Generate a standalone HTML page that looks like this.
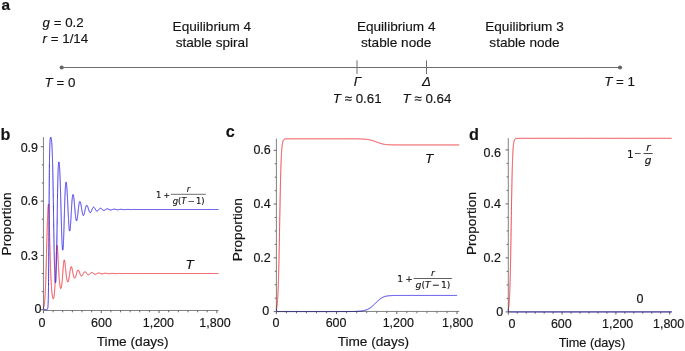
<!DOCTYPE html>
<html lang="en">
<head>
<meta charset="utf-8">
<title>Figure</title>
<style>
html,body{margin:0;padding:0;background:#fff;}
body{width:685px;height:351px;overflow:hidden;}
svg{display:block;}
svg text{stroke:#141414;stroke-width:.16px;}
svg .m text{stroke-width:.15px;}
</style>
</head>
<body>
<svg width="685" height="351" viewBox="0 0 685 351" font-family='"Liberation Sans", Arial, Helvetica, sans-serif' fill="#141414">
<rect width="685" height="351" fill="#fff"/>
<g font-weight="bold" font-size="16.2">
<text x="1.6" y="9.5" font-size="15.4">a</text>
<text x="0.6" y="139.9">b</text>
<text x="225.8" y="137.0">c</text>
<text x="469.1" y="139.7">d</text>
</g>
<g font-size="13.33">
<text x="42.6" y="27.1"><tspan font-style="italic">g</tspan> = 0.2</text>
<text x="42.6" y="42.8"><tspan font-style="italic">r</tspan> = 1/14</text>
<text x="211.9" y="31.1" text-anchor="middle" font-size="13.6">Equilibrium 4</text>
<text x="211.9" y="46.8" text-anchor="middle" font-size="13.6">stable spiral</text>
<text x="396.2" y="31.1" text-anchor="middle" font-size="13.6">Equilibrium 4</text>
<text x="396.2" y="46.8" text-anchor="middle" font-size="13.6">stable node</text>
<text x="524.5" y="31.1" text-anchor="middle" font-size="13.6">Equilibrium 3</text>
<text x="524.5" y="46.8" text-anchor="middle" font-size="13.6">stable node</text>
<text x="44.6" y="86.6"><tspan font-style="italic">T</tspan> = 0</text>
<text x="604.2" y="85.8"><tspan font-style="italic">T</tspan> = 1</text>
<text x="357.6" y="85.8" text-anchor="middle" font-style="italic">Γ</text>
<text x="426.4" y="85.8" text-anchor="middle" font-style="italic">Δ</text>
<text x="357.2" y="102.6" text-anchor="middle"><tspan font-style="italic">T</tspan> ≈ 0.61</text>
<text x="427" y="102.6" text-anchor="middle"><tspan font-style="italic">T</tspan> ≈ 0.64</text>
</g>
<g stroke="#6e6e6e" stroke-width="1" fill="none"><path d="M61.7 67.5H620"/><path d="M357 60.4V74.1M426.5 60.4V74.1"/></g>
<circle cx="61.7" cy="67.5" r="2.1" fill="#666"/><circle cx="620" cy="67.5" r="2.1" fill="#666"/>
<!-- panel b -->
<g stroke="#6c6c6c" stroke-width="0.85" fill="none">
<path d="M43.45 137.10V310.50H218.60"/>
</g>
<path d="M40.75 309.75H43.45M40.75 255.42H43.45M40.75 201.09H43.45M40.75 146.76H43.45M43.45 310.50V313.20M101.25 310.50V313.20M159.05 310.50V313.20M216.85 310.50V313.20" stroke="#5c5c5c" stroke-width="0.95" fill="none"/>
<path d="M41.75 291.64H43.45M41.75 273.53H43.45M41.75 237.31H43.45M41.75 219.20H43.45M41.75 182.98H43.45M41.75 164.87H43.45M53.08 310.50V312.30M62.72 310.50V312.30M72.35 310.50V312.30M81.98 310.50V312.30M91.62 310.50V312.30M110.88 310.50V312.30M120.52 310.50V312.30M130.15 310.50V312.30M139.78 310.50V312.30M149.42 310.50V312.30M168.68 310.50V312.30M178.32 310.50V312.30M187.95 310.50V312.30M197.58 310.50V312.30M207.22 310.50V312.30" stroke="#5c5c5c" stroke-width="0.9" fill="none"/>
<g fill="none" stroke-width="0.95" stroke-linejoin="round" style="mix-blend-mode:multiply">
<polyline points="43.45,307.94 43.55,307.68 43.66,307.39 43.74,307.10 43.82,306.84 43.89,306.55 43.95,306.30 44.01,306.03 44.07,305.73 44.13,305.42 44.17,305.17 44.21,304.90 44.26,304.62 44.30,304.33 44.35,304.02 44.39,303.69 44.43,303.34 44.48,302.98 44.51,302.72 44.54,302.46 44.57,302.19 44.60,301.91 44.63,301.62 44.65,301.32 44.68,301.00 44.71,300.68 44.74,300.35 44.77,300.01 44.80,299.65 44.83,299.28 44.86,298.90 44.89,298.51 44.92,298.11 44.95,297.69 44.98,297.26 45.01,296.82 45.04,296.36 45.07,295.89 45.10,295.40 45.12,294.90 45.14,294.65 45.15,294.39 45.17,294.12 45.18,293.86 45.20,293.59 45.21,293.31 45.23,293.03 45.24,292.75 45.26,292.47 45.27,292.17 45.29,291.88 45.30,291.58 45.32,291.28 45.33,290.97 45.35,290.66 45.36,290.35 45.37,290.03 45.39,289.71 45.40,289.38 45.42,289.05 45.43,288.71 45.45,288.37 45.46,288.03 45.48,287.68 45.49,287.33 45.51,286.97 45.52,286.61 45.54,286.24 45.55,285.87 45.57,285.50 45.58,285.12 45.60,284.74 45.61,284.35 45.62,283.96 45.64,283.56 45.65,283.16 45.67,282.76 45.68,282.35 45.70,281.94 45.71,281.52 45.73,281.10 45.74,280.68 45.76,280.25 45.77,279.81 45.79,279.37 45.80,278.93 45.82,278.49 45.83,278.04 45.84,277.58 45.86,277.12 45.87,276.66 45.89,276.20 45.90,275.73 45.92,275.25 45.93,274.77 45.95,274.29 45.96,273.81 45.98,273.32 45.99,272.83 46.01,272.33 46.02,271.83 46.04,271.33 46.05,270.82 46.07,270.31 46.08,269.80 46.09,269.28 46.11,268.77 46.12,268.24 46.14,267.72 46.15,267.19 46.17,266.66 46.18,266.13 46.20,265.59 46.21,265.05 46.23,264.51 46.24,263.97 46.26,263.42 46.27,262.88 46.29,262.33 46.30,261.77 46.31,261.22 46.33,260.67 46.34,260.11 46.36,259.55 46.37,258.99 46.39,258.43 46.40,257.86 46.42,257.30 46.43,256.74 46.45,256.17 46.46,255.60 46.48,255.03 46.49,254.47 46.51,253.90 46.52,253.33 46.54,252.76 46.55,252.19 46.56,251.62 46.58,251.05 46.59,250.48 46.61,249.91 46.62,249.34 46.64,248.77 46.65,248.20 46.67,247.63 46.68,247.06 46.70,246.50 46.71,245.93 46.73,245.37 46.74,244.81 46.76,244.24 46.77,243.68 46.79,243.13 46.80,242.57 46.81,242.01 46.83,241.46 46.84,240.91 46.86,240.36 46.87,239.81 46.89,239.26 46.90,238.72 46.92,238.18 46.93,237.64 46.95,237.11 46.96,236.57 46.98,236.04 46.99,235.52 47.01,234.99 47.02,234.47 47.03,233.95 47.05,233.43 47.06,232.92 47.08,232.41 47.09,231.91 47.11,231.41 47.12,230.91 47.14,230.41 47.15,229.92 47.17,229.43 47.18,228.95 47.20,228.47 47.21,227.99 47.23,227.51 47.24,227.05 47.26,226.58 47.27,226.12 47.28,225.66 47.30,225.21 47.31,224.76 47.33,224.31 47.34,223.87 47.36,223.44 47.37,223.01 47.39,222.58 47.40,222.15 47.42,221.73 47.43,221.32 47.45,220.91 47.46,220.50 47.48,220.10 47.49,219.70 47.51,219.31 47.52,218.92 47.53,218.54 47.55,218.16 47.56,217.79 47.58,217.41 47.59,217.05 47.61,216.69 47.62,216.33 47.64,215.98 47.65,215.63 47.67,215.29 47.68,214.95 47.70,214.62 47.71,214.29 47.73,213.96 47.74,213.64 47.75,213.33 47.77,213.02 47.78,212.71 47.80,212.41 47.81,212.11 47.83,211.82 47.84,211.53 47.86,211.25 47.87,210.97 47.89,210.70 47.90,210.43 47.92,210.17 47.93,209.91 47.95,209.65 47.98,209.16 48.00,208.68 48.03,208.22 48.06,207.79 48.09,207.37 48.12,206.97 48.15,206.60 48.18,206.25 48.21,205.91 48.24,205.60 48.27,205.32 48.30,205.06 48.34,204.71 48.39,204.43 48.45,204.16 48.67,204.43 48.71,204.78 48.74,205.07 48.77,205.42 48.80,205.82 48.83,206.28 48.86,206.79 48.87,207.07 48.89,207.36 48.90,207.66 48.92,207.98 48.93,208.32 48.94,208.66 48.96,209.03 48.97,209.40 48.99,209.79 49.00,210.19 49.02,210.61 49.03,211.04 49.05,211.48 49.06,211.93 49.08,212.40 49.09,212.87 49.11,213.36 49.12,213.86 49.14,214.37 49.15,214.89 49.17,215.42 49.18,215.96 49.19,216.51 49.21,217.07 49.22,217.63 49.24,218.21 49.25,218.79 49.27,219.37 49.28,219.97 49.30,220.57 49.31,221.17 49.33,221.78 49.34,222.40 49.36,223.02 49.37,223.64 49.39,224.27 49.40,224.90 49.41,225.53 49.43,226.17 49.44,226.80 49.46,227.44 49.47,228.08 49.49,228.73 49.50,229.37 49.52,230.01 49.53,230.66 49.55,231.30 49.56,231.94 49.58,232.59 49.59,233.23 49.61,233.87 49.62,234.51 49.64,235.15 49.65,235.78 49.66,236.42 49.68,237.05 49.69,237.68 49.71,238.31 49.72,238.94 49.74,239.56 49.75,240.18 49.77,240.80 49.78,241.42 49.80,242.03 49.81,242.64 49.83,243.24 49.84,243.85 49.86,244.45 49.87,245.04 49.89,245.63 49.90,246.22 49.91,246.81 49.93,247.39 49.94,247.97 49.96,248.54 49.97,249.11 49.99,249.67 50.00,250.23 50.02,250.79 50.03,251.34 50.05,251.89 50.06,252.44 50.08,252.98 50.09,253.52 50.11,254.05 50.12,254.58 50.13,255.10 50.15,255.62 50.16,256.14 50.18,256.65 50.19,257.15 50.21,257.66 50.22,258.16 50.24,258.65 50.25,259.14 50.27,259.63 50.28,260.11 50.30,260.59 50.31,261.06 50.33,261.53 50.34,261.99 50.36,262.45 50.37,262.91 50.38,263.36 50.40,263.81 50.41,264.26 50.43,264.70 50.44,265.13 50.46,265.57 50.47,265.99 50.49,266.42 50.50,266.84 50.52,267.25 50.53,267.67 50.55,268.07 50.56,268.48 50.58,268.88 50.59,269.28 50.61,269.67 50.62,270.06 50.63,270.44 50.65,270.83 50.66,271.20 50.68,271.58 50.69,271.95 50.71,272.31 50.72,272.68 50.74,273.04 50.75,273.39 50.77,273.75 50.78,274.09 50.80,274.44 50.81,274.78 50.83,275.12 50.84,275.46 50.85,275.79 50.87,276.12 50.88,276.44 50.90,276.76 50.91,277.08 50.93,277.40 50.94,277.71 50.96,278.02 50.97,278.32 50.99,278.62 51.00,278.92 51.02,279.22 51.03,279.51 51.05,279.80 51.06,280.09 51.08,280.37 51.09,280.65 51.10,280.93 51.12,281.21 51.13,281.48 51.15,281.75 51.16,282.01 51.18,282.28 51.19,282.54 51.21,282.80 51.22,283.05 51.24,283.30 51.27,283.80 51.30,284.29 51.32,284.76 51.35,285.23 51.38,285.68 51.41,286.12 51.44,286.56 51.47,286.98 51.50,287.40 51.53,287.80 51.56,288.20 51.59,288.59 51.62,288.97 51.65,289.34 51.68,289.70 51.71,290.05 51.74,290.39 51.77,290.73 51.80,291.06 51.82,291.38 51.85,291.69 51.88,291.99 51.91,292.29 51.94,292.58 51.97,292.86 52.00,293.13 52.03,293.40 52.06,293.66 52.09,293.91 52.13,294.28 52.18,294.63 52.22,294.96 52.27,295.28 52.31,295.58 52.35,295.88 52.40,296.15 52.44,296.41 52.50,296.74 52.56,297.04 52.62,297.32 52.68,297.58 52.75,297.86 52.84,298.16 52.94,298.44 53.09,298.70 53.35,298.81 53.56,298.53 53.66,298.26 53.75,297.96 53.82,297.66 53.88,297.38 53.94,297.07 53.98,296.81 54.03,296.54 54.07,296.25 54.12,295.93 54.16,295.59 54.20,295.24 54.23,294.99 54.26,294.73 54.29,294.46 54.32,294.18 54.35,293.89 54.38,293.59 54.41,293.27 54.44,292.95 54.47,292.62 54.50,292.28 54.53,291.92 54.56,291.56 54.59,291.18 54.62,290.79 54.65,290.39 54.67,289.98 54.70,289.56 54.73,289.12 54.76,288.68 54.79,288.22 54.82,287.75 54.85,287.27 54.88,286.78 54.90,286.53 54.91,286.27 54.92,286.01 54.94,285.76 54.95,285.49 54.97,285.23 54.98,284.96 55.00,284.69 55.01,284.41 55.03,284.14 55.04,283.86 55.06,283.57 55.07,283.29 55.09,283.00 55.10,282.71 55.12,282.41 55.13,282.12 55.14,281.82 55.16,281.51 55.17,281.21 55.19,280.90 55.20,280.59 55.22,280.28 55.23,279.96 55.25,279.64 55.26,279.32 55.28,279.00 55.29,278.67 55.31,278.35 55.32,278.02 55.34,277.68 55.35,277.35 55.37,277.01 55.38,276.67 55.39,276.33 55.41,275.99 55.42,275.64 55.44,275.29 55.45,274.94 55.47,274.59 55.48,274.24 55.50,273.88 55.51,273.52 55.53,273.16 55.54,272.80 55.56,272.44 55.57,272.08 55.59,271.71 55.60,271.34 55.62,270.98 55.63,270.61 55.64,270.24 55.66,269.87 55.67,269.50 55.69,269.12 55.70,268.75 55.72,268.37 55.73,268.00 55.75,267.62 55.76,267.25 55.78,266.87 55.79,266.49 55.81,266.12 55.82,265.74 55.84,265.36 55.85,264.99 55.86,264.61 55.88,264.23 55.89,263.86 55.91,263.48 55.92,263.11 55.94,262.73 55.95,262.36 55.97,261.99 55.98,261.62 56.00,261.25 56.01,260.88 56.03,260.51 56.04,260.14 56.06,259.78 56.07,259.42 56.09,259.06 56.10,258.70 56.11,258.34 56.13,257.99 56.14,257.63 56.16,257.28 56.17,256.94 56.19,256.59 56.20,256.25 56.22,255.91 56.23,255.58 56.25,255.24 56.26,254.91 56.28,254.59 56.29,254.27 56.31,253.95 56.32,253.63 56.33,253.32 56.35,253.02 56.36,252.71 56.38,252.42 56.39,252.12 56.41,251.83 56.42,251.55 56.44,251.27 56.45,251.00 56.47,250.73 56.48,250.46 56.50,250.20 56.51,249.95 56.54,249.46 56.57,248.99 56.60,248.55 56.63,248.13 56.66,247.73 56.69,247.36 56.72,247.02 56.75,246.71 56.78,246.42 56.81,246.16 56.85,245.83 56.89,245.56 56.95,245.31 57.20,245.58 57.25,245.85 57.29,246.17 57.33,246.55 57.36,246.83 57.39,247.14 57.42,247.47 57.45,247.83 57.48,248.20 57.51,248.59 57.54,249.00 57.57,249.43 57.60,249.88 57.63,250.34 57.66,250.81 57.69,251.30 57.72,251.80 57.73,252.06 57.75,252.31 57.76,252.57 57.77,252.84 57.79,253.10 57.80,253.37 57.82,253.64 57.83,253.91 57.85,254.18 57.86,254.46 57.88,254.74 57.89,255.01 57.91,255.29 57.92,255.58 57.94,255.86 57.95,256.14 57.97,256.43 57.98,256.71 58.00,257.00 58.01,257.29 58.02,257.57 58.04,257.86 58.05,258.15 58.07,258.44 58.08,258.73 58.10,259.02 58.11,259.31 58.13,259.60 58.14,259.89 58.16,260.19 58.17,260.48 58.19,260.77 58.20,261.06 58.22,261.35 58.23,261.64 58.24,261.93 58.26,262.21 58.27,262.50 58.29,262.79 58.30,263.08 58.32,263.36 58.33,263.65 58.35,263.93 58.36,264.22 58.38,264.50 58.39,264.78 58.41,265.06 58.42,265.34 58.44,265.62 58.45,265.90 58.47,266.18 58.48,266.45 58.49,266.73 58.51,267.00 58.52,267.27 58.54,267.54 58.55,267.81 58.57,268.08 58.58,268.35 58.60,268.61 58.61,268.88 58.63,269.14 58.64,269.40 58.66,269.66 58.67,269.92 58.69,270.17 58.70,270.43 58.72,270.68 58.73,270.93 58.76,271.43 58.79,271.92 58.82,272.41 58.85,272.89 58.88,273.36 58.91,273.82 58.94,274.28 58.96,274.73 58.99,275.17 59.02,275.61 59.05,276.04 59.08,276.46 59.11,276.87 59.14,277.28 59.17,277.68 59.20,278.07 59.23,278.45 59.26,278.83 59.29,279.20 59.32,279.56 59.35,279.91 59.38,280.26 59.41,280.60 59.43,280.93 59.46,281.26 59.49,281.58 59.52,281.89 59.55,282.19 59.58,282.49 59.61,282.77 59.64,283.05 59.67,283.33 59.70,283.60 59.73,283.85 59.76,284.11 59.80,284.47 59.85,284.82 59.89,285.15 59.93,285.47 59.98,285.77 60.02,286.06 60.07,286.33 60.11,286.58 60.17,286.90 60.23,287.18 60.29,287.44 60.36,287.73 60.45,288.01 60.55,288.27 60.74,288.52 61.01,288.39 61.14,288.10 61.23,287.84 61.30,287.56 61.36,287.31 61.42,287.03 61.48,286.73 61.52,286.48 61.57,286.21 61.61,285.93 61.65,285.63 61.70,285.31 61.74,284.98 61.79,284.64 61.83,284.27 61.86,284.02 61.89,283.77 61.92,283.50 61.95,283.23 61.98,282.95 62.01,282.67 62.04,282.38 62.06,282.08 62.09,281.78 62.12,281.47 62.15,281.16 62.18,280.84 62.21,280.51 62.24,280.18 62.27,279.84 62.30,279.49 62.33,279.15 62.36,278.79 62.39,278.43 62.42,278.07 62.45,277.70 62.48,277.33 62.51,276.96 62.53,276.58 62.56,276.20 62.59,275.81 62.62,275.42 62.65,275.03 62.68,274.64 62.71,274.24 62.74,273.85 62.77,273.45 62.80,273.05 62.83,272.65 62.86,272.25 62.89,271.85 62.92,271.45 62.95,271.05 62.98,270.65 63.01,270.25 63.03,269.86 63.06,269.47 63.09,269.08 63.12,268.69 63.15,268.31 63.18,267.93 63.21,267.55 63.24,267.18 63.27,266.81 63.30,266.45 63.33,266.10 63.36,265.75 63.39,265.41 63.42,265.08 63.45,264.75 63.48,264.43 63.50,264.12 63.53,263.82 63.56,263.53 63.59,263.24 63.62,262.97 63.65,262.70 63.68,262.45 63.73,262.09 63.77,261.75 63.81,261.44 63.86,261.16 63.90,260.90 63.96,260.61 64.03,260.30 64.12,260.05 64.39,259.97 64.50,260.26 64.58,260.53 64.64,260.79 64.69,261.10 64.74,261.35 64.78,261.63 64.83,261.92 64.87,262.23 64.92,262.55 64.96,262.90 65.00,263.25 65.05,263.62 65.08,263.88 65.11,264.13 65.14,264.40 65.16,264.66 65.19,264.93 65.22,265.21 65.25,265.49 65.28,265.77 65.31,266.05 65.34,266.34 65.37,266.62 65.40,266.91 65.43,267.21 65.46,267.50 65.49,267.79 65.52,268.09 65.55,268.38 65.58,268.68 65.61,268.97 65.64,269.27 65.66,269.56 65.69,269.85 65.72,270.15 65.75,270.44 65.78,270.73 65.81,271.02 65.84,271.31 65.87,271.59 65.90,271.88 65.93,272.16 65.96,272.44 65.99,272.71 66.02,272.99 66.05,273.26 66.08,273.53 66.11,273.79 66.13,274.06 66.16,274.32 66.19,274.57 66.22,274.83 66.27,275.20 66.31,275.56 66.35,275.92 66.40,276.27 66.44,276.61 66.49,276.94 66.53,277.26 66.58,277.57 66.62,277.87 66.66,278.16 66.71,278.44 66.75,278.71 66.80,278.98 66.84,279.23 66.90,279.54 66.96,279.84 67.02,280.12 67.07,280.38 67.15,280.68 67.22,280.95 67.31,281.23 67.41,281.50 67.54,281.76 67.81,281.97 68.07,281.78 68.22,281.50 68.32,281.24 68.41,280.97 68.49,280.71 68.56,280.42 68.63,280.11 68.69,279.85 68.75,279.56 68.81,279.27 68.87,278.95 68.93,278.63 68.97,278.37 69.01,278.11 69.06,277.84 69.10,277.57 69.15,277.29 69.19,277.00 69.23,276.71 69.28,276.42 69.32,276.12 69.37,275.81 69.41,275.51 69.45,275.20 69.50,274.88 69.54,274.57 69.59,274.25 69.63,273.94 69.68,273.62 69.72,273.30 69.76,272.99 69.81,272.67 69.85,272.36 69.90,272.05 69.94,271.75 69.98,271.44 70.03,271.15 70.07,270.85 70.12,270.57 70.16,270.29 70.20,270.01 70.25,269.75 70.29,269.49 70.35,269.16 70.41,268.84 70.47,268.54 70.53,268.27 70.59,268.01 70.66,267.71 70.73,267.45 70.82,267.18 70.94,266.90 71.14,266.64 71.41,266.73 71.57,267.00 71.67,267.26 71.76,267.51 71.85,267.81 71.92,268.08 72.00,268.38 72.07,268.69 72.13,268.95 72.19,269.23 72.25,269.51 72.31,269.79 72.36,270.09 72.42,270.39 72.48,270.69 72.54,270.99 72.60,271.30 72.66,271.61 72.72,271.92 72.78,272.23 72.83,272.53 72.89,272.84 72.95,273.14 73.01,273.44 73.07,273.73 73.13,274.02 73.19,274.30 73.25,274.57 73.30,274.84 73.36,275.09 73.42,275.35 73.50,275.65 73.57,275.93 73.64,276.20 73.72,276.46 73.80,276.74 73.89,277.01 73.99,277.28 74.11,277.54 74.26,277.81 74.48,278.06 74.74,278.14 75.01,277.98 75.20,277.71 75.35,277.43 75.46,277.17 75.57,276.90 75.67,276.61 75.76,276.35 75.85,276.06 75.93,275.77 76.01,275.51 76.08,275.25 76.15,274.98 76.23,274.71 76.30,274.43 76.37,274.15 76.45,273.87 76.52,273.59 76.60,273.32 76.67,273.04 76.74,272.77 76.82,272.51 76.89,272.25 76.98,271.96 77.07,271.67 77.15,271.41 77.26,271.12 77.36,270.86 77.48,270.60 77.62,270.33 77.83,270.08 78.09,269.95 78.36,270.06 78.59,270.33 78.76,270.59 78.89,270.86 79.00,271.12 79.12,271.40 79.23,271.66 79.33,271.93 79.43,272.21 79.53,272.49 79.64,272.78 79.74,273.06 79.84,273.34 79.95,273.62 80.05,273.89 80.15,274.15 80.27,274.43 80.39,274.70 80.52,274.97 80.66,275.24 80.83,275.50 81.03,275.75 81.30,275.96 81.56,276.02 81.83,275.94 82.09,275.73 82.31,275.47 82.49,275.21 82.65,274.94 82.80,274.68 82.93,274.43 83.06,274.16 83.19,273.90 83.32,273.63 83.46,273.37 83.59,273.11 83.74,272.84 83.88,272.59 84.06,272.32 84.26,272.06 84.53,271.81 84.79,271.68 85.06,271.66 85.32,271.76 85.59,271.96 85.84,272.23 86.04,272.49 86.23,272.75 86.41,273.01 86.59,273.26 86.76,273.52 86.95,273.79 87.16,274.06 87.38,274.31 87.64,274.56 87.91,274.74 88.17,274.84 88.44,274.86 88.70,274.81 88.97,274.69 89.23,274.50 89.49,274.27 89.76,274.01 90.01,273.75 90.24,273.50 90.49,273.24 90.76,273.00 91.02,272.80 91.29,272.66 91.55,272.57 91.82,272.54 92.08,272.58 92.35,272.66 92.61,272.80 92.87,272.97 93.14,273.16 93.40,273.36 93.67,273.57 93.93,273.76 94.20,273.93 94.46,274.06 94.73,274.16 94.99,274.22 95.25,274.24 95.52,274.22 95.78,274.15 96.05,274.06 96.31,273.94 96.58,273.80 96.84,273.65 97.11,273.50 97.37,273.36 97.63,273.23 97.90,273.13 98.16,273.06 98.43,273.02 98.69,273.01 98.96,273.03 99.22,273.08 99.49,273.15 99.75,273.24 100.01,273.35 100.28,273.46 100.54,273.56 100.81,273.66 101.07,273.75 101.34,273.82 101.60,273.87 101.87,273.90 102.13,273.91 102.39,273.89 102.66,273.85 102.92,273.80 103.19,273.74 103.45,273.66 103.72,273.58 103.98,273.50 104.25,273.43 104.51,273.37 104.77,273.31 105.04,273.28 105.30,273.26 105.57,273.25 105.83,273.27 106.10,273.30 106.36,273.34 106.63,273.38 106.89,273.44 107.15,273.50 107.42,273.55 107.68,273.61 107.95,273.65 108.21,273.69 108.48,273.71 108.74,273.73 109.01,273.73 109.27,273.72 109.53,273.70 109.80,273.67 110.06,273.63 110.33,273.59 110.59,273.55 110.86,273.51 111.12,273.47 111.39,273.44 111.65,273.41 111.91,273.39 112.18,273.38 112.44,273.38 112.71,273.39 112.97,273.41 113.24,273.43 113.50,273.46 113.77,273.49 114.03,273.52 114.30,273.55 114.56,273.57 114.82,273.60 115.09,273.62 115.35,273.63 115.62,273.64 115.88,273.64 116.15,273.63 116.41,273.62 116.68,273.60 116.94,273.58 117.20,273.56 117.47,273.54 117.73,273.52 118.00,273.50 118.26,273.48 118.53,273.47 118.79,273.46 119.06,273.45 119.32,273.45 119.58,273.46 119.85,273.47 120.11,273.48 120.38,273.49 120.64,273.51 120.91,273.53 121.17,273.54 121.44,273.56 121.70,273.57 121.96,273.58 122.23,273.58 122.49,273.59 122.76,273.59 123.02,273.58 123.29,273.58 123.55,273.57 123.82,273.56 124.08,273.54 124.34,273.53 124.61,273.52 124.87,273.51 125.14,273.50 125.40,273.50 125.67,273.49 125.93,273.49 126.20,273.49 126.46,273.49 126.72,273.50 126.99,273.50 127.25,273.51 127.52,273.52 127.78,273.53 128.05,273.54 128.31,273.54 128.58,273.55 128.84,273.56 129.10,273.56 129.37,273.56 129.63,273.56 129.90,273.56 130.16,273.55 130.43,273.55 130.69,273.54 130.96,273.54 131.22,273.53 131.48,273.52 131.75,273.52 132.01,273.51 132.28,273.51 132.54,273.51 132.81,273.51 133.07,273.51 133.34,273.51 133.60,273.51 133.86,273.52 134.13,273.52 134.39,273.53 134.66,273.53 134.92,273.53 135.19,273.54 135.45,273.54 135.72,273.54 135.98,273.55 136.25,273.55 136.51,273.55 136.77,273.54 137.04,273.54 137.30,273.54 137.57,273.54 137.83,273.53 138.10,273.53 138.36,273.53 138.63,273.52 138.89,273.52 139.15,273.52 139.42,273.52 139.68,273.52 139.95,273.52 140.21,273.52 140.48,273.52 140.74,273.52 141.01,273.53 141.27,273.53 141.53,273.53 141.80,273.53 142.06,273.53 142.33,273.54 142.59,273.54 142.86,273.54 143.12,273.54 143.39,273.54 143.65,273.54 143.91,273.54 144.18,273.53 144.44,273.53 144.71,273.53 144.97,273.53 145.24,273.53 145.50,273.53 145.77,273.53 146.03,273.52 146.29,273.52 146.56,273.52 146.82,273.52 147.09,273.52 147.35,273.53 147.62,273.53 147.88,273.53 148.15,273.53 148.41,273.53 148.67,273.53 148.94,273.53 149.20,273.53 149.47,273.53 149.73,273.53 150.00,273.53 150.26,273.53 150.53,273.53 150.79,273.53 151.05,273.53 151.32,273.53 151.58,273.53 151.85,273.53 152.11,273.53 152.38,273.53 152.64,273.53 152.91,273.53 153.17,273.53 153.43,273.53 153.70,273.53 153.96,273.53 154.23,273.53 154.49,273.53 154.76,273.53 155.02,273.53 155.29,273.53 155.55,273.53 155.81,273.53 156.08,273.53 156.34,273.53 156.61,273.53 156.87,273.53 157.14,273.53 157.40,273.53 157.67,273.53 157.93,273.53 158.19,273.53 158.46,273.53 158.72,273.53 158.99,273.53 159.25,273.53 159.52,273.53 159.78,273.53 160.05,273.53 160.31,273.53 160.58,273.53 160.84,273.53 161.10,273.53 161.37,273.53 161.63,273.53 161.90,273.53 162.16,273.53 162.43,273.53 162.69,273.53 162.96,273.53 163.22,273.53 163.48,273.53 163.75,273.53 164.01,273.53 164.28,273.53 164.54,273.53 164.81,273.53 165.07,273.53 165.34,273.53 165.60,273.53 165.86,273.53 166.13,273.53 166.39,273.53 166.66,273.53 166.92,273.53 167.19,273.53 167.45,273.53 167.72,273.53 167.98,273.53 168.24,273.53 168.51,273.53 168.77,273.53 169.04,273.53 169.30,273.53 169.57,273.53 169.83,273.53 170.10,273.53 170.36,273.53 170.62,273.53 170.89,273.53 171.15,273.53 171.42,273.53 171.68,273.53 171.95,273.53 172.21,273.53 172.48,273.53 172.74,273.53 173.00,273.53 173.27,273.53 173.53,273.53 173.80,273.53 174.06,273.53 174.33,273.53 174.59,273.53 174.86,273.53 175.12,273.53 175.38,273.53 175.65,273.53 175.91,273.53 176.18,273.53 176.44,273.53 176.71,273.53 176.97,273.53 177.24,273.53 177.50,273.53 177.76,273.53 178.03,273.53 178.29,273.53 178.56,273.53 178.82,273.53 179.09,273.53 179.35,273.53 179.62,273.53 179.88,273.53 180.14,273.53 180.41,273.53 180.67,273.53 180.94,273.53 181.20,273.53 181.47,273.53 181.73,273.53 182.00,273.53 182.26,273.53 182.53,273.53 182.79,273.53 183.05,273.53 183.32,273.53 183.58,273.53 183.85,273.53 184.11,273.53 184.38,273.53 184.64,273.53 184.91,273.53 185.17,273.53 185.43,273.53 185.70,273.53 185.96,273.53 186.23,273.53 186.49,273.53 186.76,273.53 187.02,273.53 187.29,273.53 187.55,273.53 187.81,273.53 188.08,273.53 188.34,273.53 188.61,273.53 188.87,273.53 189.14,273.53 189.40,273.53 189.67,273.53 189.93,273.53 190.19,273.53 190.46,273.53 190.72,273.53 190.99,273.53 191.25,273.53 191.52,273.53 191.78,273.53 192.05,273.53 192.31,273.53 192.57,273.53 192.84,273.53 193.10,273.53 193.37,273.53 193.63,273.53 193.90,273.53 194.16,273.53 194.43,273.53 194.69,273.53 194.95,273.53 195.22,273.53 195.48,273.53 195.75,273.53 196.01,273.53 196.28,273.53 196.54,273.53 196.81,273.53 197.07,273.53 197.33,273.53 197.60,273.53 197.86,273.53 198.13,273.53 198.39,273.53 198.66,273.53 198.92,273.53 199.19,273.53 199.45,273.53 199.71,273.53 199.98,273.53 200.24,273.53 200.51,273.53 200.77,273.53 201.04,273.53 201.30,273.53 201.57,273.53 201.83,273.53 202.09,273.53 202.36,273.53 202.62,273.53 202.89,273.53 203.15,273.53 203.42,273.53 203.68,273.53 203.95,273.53 204.21,273.53 204.47,273.53 204.74,273.53 205.00,273.53 205.27,273.53 205.53,273.53 205.80,273.53 206.06,273.53 206.33,273.53 206.59,273.53 206.86,273.53 207.12,273.53 207.38,273.53 207.65,273.53 207.91,273.53 208.18,273.53 208.44,273.53 208.71,273.53 208.97,273.53 209.24,273.53 209.50,273.53 209.76,273.53 210.03,273.53 210.29,273.53 210.56,273.53 210.82,273.53 211.09,273.53 211.35,273.53 211.62,273.53 211.88,273.53 212.14,273.53 212.41,273.53 212.67,273.53 212.94,273.53 213.20,273.53 213.47,273.53 213.73,273.53 214.00,273.53 214.26,273.53 214.52,273.53 214.79,273.53 215.05,273.53 215.32,273.53 215.58,273.53 215.85,273.53 216.11,273.53 216.38,273.53 216.64,273.53 216.90,273.53 217.17,273.53 217.43,273.53 217.70,273.53 217.96,273.53 218.23,273.53 218.49,273.53 218.58,273.53" stroke="#ee2a32"/>
<polyline points="43.45,307.94 43.54,308.22 43.64,308.50 43.76,308.75 43.92,309.02 44.16,309.27 44.42,309.45 44.68,309.56 44.95,309.62 45.21,309.66 45.48,309.68 45.74,309.69 46.01,309.69 46.27,309.69 46.54,309.67 46.80,309.63 47.06,309.54 47.33,309.34 47.51,309.06 47.61,308.80 47.68,308.54 47.74,308.27 47.80,307.94 47.84,307.64 47.89,307.29 47.92,307.02 47.95,306.71 47.98,306.37 48.00,305.99 48.03,305.57 48.06,305.09 48.08,304.83 48.09,304.56 48.11,304.27 48.12,303.97 48.14,303.64 48.15,303.30 48.17,302.94 48.18,302.56 48.20,302.16 48.21,301.74 48.22,301.29 48.24,300.81 48.25,300.31 48.27,299.79 48.28,299.23 48.30,298.65 48.31,298.03 48.33,297.38 48.34,296.70 48.36,295.98 48.37,295.22 48.39,294.42 48.40,293.59 48.42,292.71 48.43,291.78 48.45,290.82 48.46,289.80 48.47,288.74 48.49,287.63 48.50,286.47 48.52,285.25 48.53,283.99 48.55,282.67 48.56,281.29 48.58,279.86 48.59,278.37 48.61,276.82 48.62,275.22 48.64,273.56 48.65,271.84 48.67,270.07 48.68,268.23 48.70,266.35 48.71,264.41 48.72,262.41 48.74,260.37 48.75,258.27 48.77,256.13 48.78,253.94 48.80,251.71 48.81,249.44 48.83,247.14 48.84,244.81 48.86,242.44 48.87,240.05 48.89,237.64 48.90,235.22 48.92,232.78 48.93,230.33 48.94,227.88 48.96,225.43 48.97,222.99 48.99,220.55 49.00,218.13 49.02,215.73 49.03,213.34 49.05,210.98 49.06,208.65 49.08,206.35 49.09,204.08 49.11,201.85 49.12,199.66 49.14,197.52 49.15,195.41 49.17,193.35 49.18,191.34 49.19,189.38 49.21,187.47 49.22,185.60 49.24,183.79 49.25,182.03 49.27,180.32 49.28,178.66 49.30,177.05 49.31,175.50 49.33,173.99 49.34,172.53 49.36,171.13 49.37,169.77 49.39,168.46 49.40,167.19 49.41,165.97 49.43,164.79 49.44,163.66 49.46,162.57 49.47,161.52 49.49,160.51 49.50,159.54 49.52,158.61 49.53,157.71 49.55,156.84 49.56,156.01 49.58,155.22 49.59,154.45 49.61,153.71 49.62,153.01 49.64,152.33 49.65,151.68 49.66,151.05 49.68,150.45 49.69,149.87 49.71,149.32 49.72,148.79 49.74,148.27 49.75,147.78 49.77,147.31 49.78,146.86 49.80,146.43 49.81,146.01 49.83,145.61 49.84,145.23 49.86,144.86 49.87,144.50 49.89,144.16 49.90,143.84 49.91,143.52 49.93,143.22 49.94,142.93 49.96,142.66 49.97,142.39 49.99,142.13 50.02,141.65 50.05,141.21 50.08,140.80 50.11,140.42 50.13,140.08 50.16,139.76 50.19,139.46 50.22,139.20 50.27,138.83 50.31,138.52 50.36,138.24 50.41,137.94 50.49,137.64 50.58,137.39 50.84,137.23 51.00,137.52 51.09,137.79 51.16,138.08 51.22,138.35 51.28,138.66 51.32,138.93 51.37,139.22 51.41,139.53 51.46,139.87 51.50,140.23 51.53,140.49 51.56,140.76 51.59,141.05 51.62,141.35 51.65,141.66 51.68,141.99 51.71,142.34 51.74,142.70 51.77,143.07 51.80,143.47 51.82,143.88 51.85,144.31 51.88,144.75 51.91,145.22 51.94,145.70 51.96,145.96 51.97,146.21 51.99,146.47 52.00,146.74 52.02,147.01 52.03,147.29 52.04,147.57 52.06,147.86 52.07,148.15 52.09,148.45 52.10,148.76 52.12,149.07 52.13,149.39 52.15,149.71 52.16,150.04 52.18,150.38 52.19,150.72 52.21,151.07 52.22,151.42 52.24,151.79 52.25,152.16 52.27,152.53 52.28,152.92 52.29,153.31 52.31,153.70 52.32,154.11 52.34,154.52 52.35,154.94 52.37,155.37 52.38,155.80 52.40,156.24 52.41,156.69 52.43,157.15 52.44,157.61 52.46,158.09 52.47,158.57 52.49,159.06 52.50,159.55 52.51,160.06 52.53,160.57 52.54,161.09 52.56,161.62 52.57,162.16 52.59,162.71 52.60,163.26 52.62,163.83 52.63,164.40 52.65,164.98 52.66,165.57 52.68,166.17 52.69,166.77 52.71,167.39 52.72,168.01 52.74,168.65 52.75,169.29 52.76,169.94 52.78,170.60 52.79,171.26 52.81,171.94 52.82,172.63 52.84,173.32 52.85,174.02 52.87,174.73 52.88,175.45 52.90,176.18 52.91,176.92 52.93,177.66 52.94,178.41 52.96,179.17 52.97,179.94 52.99,180.72 53.00,181.51 53.01,182.30 53.03,183.10 53.04,183.91 53.06,184.72 53.07,185.55 53.09,186.38 53.10,187.21 53.12,188.06 53.13,188.91 53.15,189.77 53.16,190.63 53.18,191.50 53.19,192.38 53.21,193.26 53.22,194.15 53.23,195.04 53.25,195.94 53.26,196.84 53.28,197.75 53.29,198.66 53.31,199.58 53.32,200.50 53.34,201.43 53.35,202.35 53.37,203.29 53.38,204.22 53.40,205.16 53.41,206.10 53.43,207.04 53.44,207.99 53.46,208.93 53.47,209.88 53.48,210.83 53.50,211.78 53.51,212.73 53.53,213.69 53.54,214.64 53.56,215.59 53.57,216.54 53.59,217.49 53.60,218.44 53.62,219.39 53.63,220.34 53.65,221.28 53.66,222.23 53.68,223.17 53.69,224.10 53.71,225.04 53.72,225.97 53.73,226.90 53.75,227.82 53.76,228.75 53.78,229.66 53.79,230.58 53.81,231.48 53.82,232.39 53.84,233.28 53.85,234.18 53.87,235.06 53.88,235.94 53.90,236.82 53.91,237.69 53.93,238.55 53.94,239.41 53.95,240.26 53.97,241.10 53.98,241.94 54.00,242.76 54.01,243.58 54.03,244.40 54.04,245.20 54.06,246.00 54.07,246.79 54.09,247.57 54.10,248.35 54.12,249.11 54.13,249.87 54.15,250.61 54.16,251.35 54.18,252.09 54.19,252.81 54.20,253.52 54.22,254.22 54.23,254.92 54.25,255.61 54.26,256.28 54.28,256.95 54.29,257.61 54.31,258.26 54.32,258.90 54.34,259.53 54.35,260.15 54.37,260.77 54.38,261.37 54.40,261.96 54.41,262.55 54.42,263.13 54.44,263.69 54.45,264.25 54.47,264.80 54.48,265.34 54.50,265.86 54.51,266.39 54.53,266.90 54.54,267.40 54.56,267.89 54.57,268.38 54.59,268.85 54.60,269.32 54.62,269.77 54.63,270.22 54.65,270.66 54.66,271.09 54.67,271.52 54.69,271.93 54.70,272.33 54.72,272.73 54.73,273.12 54.75,273.50 54.76,273.87 54.78,274.23 54.79,274.59 54.81,274.93 54.82,275.27 54.84,275.60 54.85,275.92 54.87,276.24 54.88,276.54 54.90,276.84 54.91,277.13 54.92,277.42 54.94,277.69 54.95,277.96 54.97,278.22 54.98,278.47 55.01,278.96 55.04,279.41 55.07,279.84 55.10,280.23 55.13,280.60 55.16,280.94 55.19,281.25 55.22,281.54 55.25,281.79 55.29,282.13 55.34,282.40 55.39,282.67 55.66,282.54 55.72,282.19 55.76,281.85 55.79,281.59 55.82,281.29 55.85,280.96 55.88,280.59 55.91,280.19 55.94,279.75 55.97,279.28 55.98,279.03 56.00,278.77 56.01,278.50 56.03,278.22 56.04,277.92 56.06,277.62 56.07,277.31 56.09,276.99 56.10,276.66 56.11,276.32 56.13,275.96 56.14,275.60 56.16,275.22 56.17,274.83 56.19,274.43 56.20,274.02 56.22,273.60 56.23,273.16 56.25,272.71 56.26,272.25 56.28,271.78 56.29,271.30 56.31,270.80 56.32,270.29 56.33,269.76 56.35,269.23 56.36,268.68 56.38,268.11 56.39,267.54 56.41,266.95 56.42,266.34 56.44,265.72 56.45,265.09 56.47,264.45 56.48,263.79 56.50,263.11 56.51,262.43 56.53,261.73 56.54,261.01 56.56,260.28 56.57,259.54 56.58,258.78 56.60,258.01 56.61,257.23 56.63,256.43 56.64,255.62 56.66,254.79 56.67,253.95 56.69,253.10 56.70,252.24 56.72,251.36 56.73,250.47 56.75,249.57 56.76,248.66 56.78,247.73 56.79,246.79 56.81,245.85 56.82,244.89 56.83,243.92 56.85,242.94 56.86,241.95 56.88,240.96 56.89,239.95 56.91,238.93 56.92,237.91 56.94,236.88 56.95,235.85 56.97,234.80 56.98,233.76 57.00,232.70 57.01,231.64 57.03,230.58 57.04,229.52 57.05,228.45 57.07,227.38 57.08,226.30 57.10,225.23 57.11,224.15 57.13,223.08 57.14,222.00 57.16,220.93 57.17,219.86 57.19,218.79 57.20,217.72 57.22,216.66 57.23,215.60 57.25,214.54 57.26,213.49 57.28,212.45 57.29,211.41 57.30,210.38 57.32,209.35 57.33,208.33 57.35,207.32 57.36,206.32 57.38,205.33 57.39,204.35 57.41,203.37 57.42,202.41 57.44,201.45 57.45,200.51 57.47,199.58 57.48,198.66 57.50,197.75 57.51,196.85 57.52,195.96 57.54,195.08 57.55,194.22 57.57,193.37 57.58,192.53 57.60,191.71 57.61,190.90 57.63,190.10 57.64,189.31 57.66,188.54 57.67,187.78 57.69,187.03 57.70,186.30 57.72,185.57 57.73,184.87 57.75,184.17 57.76,183.49 57.77,182.82 57.79,182.17 57.80,181.53 57.82,180.90 57.83,180.28 57.85,179.68 57.86,179.09 57.88,178.51 57.89,177.94 57.91,177.39 57.92,176.85 57.94,176.32 57.95,175.80 57.97,175.30 57.98,174.80 58.00,174.32 58.01,173.85 58.02,173.40 58.04,172.95 58.05,172.51 58.07,172.09 58.08,171.67 58.10,171.27 58.11,170.88 58.13,170.49 58.14,170.12 58.16,169.76 58.17,169.41 58.19,169.07 58.20,168.73 58.22,168.41 58.23,168.10 58.24,167.79 58.26,167.50 58.27,167.21 58.29,166.93 58.30,166.66 58.32,166.40 58.33,166.15 58.36,165.67 58.39,165.23 58.42,164.81 58.45,164.43 58.48,164.08 58.51,163.75 58.54,163.45 58.57,163.18 58.61,162.83 58.66,162.53 58.72,162.22 58.79,161.96 59.05,162.17 59.11,162.44 59.16,162.69 59.20,162.99 59.24,163.33 59.27,163.58 59.30,163.85 59.33,164.14 59.36,164.45 59.39,164.78 59.42,165.12 59.45,165.49 59.48,165.87 59.51,166.27 59.54,166.69 59.57,167.13 59.60,167.59 59.63,168.07 59.66,168.57 59.67,168.82 59.68,169.08 59.70,169.35 59.71,169.62 59.73,169.89 59.74,170.17 59.76,170.46 59.77,170.74 59.79,171.04 59.80,171.34 59.82,171.64 59.83,171.95 59.85,172.26 59.86,172.58 59.88,172.90 59.89,173.23 59.91,173.56 59.92,173.89 59.93,174.23 59.95,174.58 59.96,174.93 59.98,175.28 59.99,175.64 60.01,176.01 60.02,176.38 60.04,176.75 60.05,177.13 60.07,177.51 60.08,177.89 60.10,178.29 60.11,178.68 60.13,179.08 60.14,179.49 60.15,179.90 60.17,180.31 60.18,180.73 60.20,181.15 60.21,181.58 60.23,182.01 60.24,182.44 60.26,182.88 60.27,183.32 60.29,183.77 60.30,184.22 60.32,184.68 60.33,185.14 60.35,185.60 60.36,186.07 60.38,186.54 60.39,187.01 60.40,187.49 60.42,187.97 60.43,188.46 60.45,188.95 60.46,189.44 60.48,189.93 60.49,190.43 60.51,190.94 60.52,191.44 60.54,191.95 60.55,192.46 60.57,192.98 60.58,193.49 60.60,194.01 60.61,194.54 60.63,195.06 60.64,195.59 60.65,196.12 60.67,196.65 60.68,197.19 60.70,197.72 60.71,198.26 60.73,198.81 60.74,199.35 60.76,199.89 60.77,200.44 60.79,200.99 60.80,201.54 60.82,202.09 60.83,202.64 60.85,203.20 60.86,203.75 60.87,204.31 60.89,204.86 60.90,205.42 60.92,205.98 60.93,206.54 60.95,207.10 60.96,207.66 60.98,208.22 60.99,208.78 61.01,209.34 61.02,209.89 61.04,210.45 61.05,211.01 61.07,211.57 61.08,212.13 61.10,212.69 61.11,213.24 61.12,213.80 61.14,214.35 61.15,214.91 61.17,215.46 61.18,216.01 61.20,216.56 61.21,217.11 61.23,217.65 61.24,218.20 61.26,218.74 61.27,219.28 61.29,219.82 61.30,220.36 61.32,220.89 61.33,221.42 61.34,221.95 61.36,222.48 61.37,223.00 61.39,223.52 61.40,224.04 61.42,224.55 61.43,225.06 61.45,225.57 61.46,226.08 61.48,226.58 61.49,227.08 61.51,227.57 61.52,228.06 61.54,228.55 61.55,229.03 61.57,229.51 61.58,229.99 61.59,230.46 61.61,230.92 61.62,231.39 61.64,231.84 61.65,232.30 61.67,232.75 61.68,233.19 61.70,233.63 61.71,234.07 61.73,234.50 61.74,234.92 61.76,235.35 61.77,235.76 61.79,236.17 61.80,236.58 61.82,236.98 61.83,237.38 61.84,237.77 61.86,238.15 61.87,238.53 61.89,238.91 61.90,239.27 61.92,239.64 61.93,240.00 61.95,240.35 61.96,240.70 61.98,241.04 61.99,241.37 62.01,241.70 62.02,242.03 62.04,242.35 62.05,242.66 62.06,242.96 62.08,243.26 62.09,243.56 62.11,243.85 62.12,244.13 62.14,244.41 62.15,244.68 62.17,244.94 62.18,245.20 62.20,245.45 62.23,245.94 62.26,246.40 62.29,246.84 62.31,247.25 62.34,247.64 62.37,248.00 62.40,248.34 62.43,248.65 62.46,248.93 62.49,249.19 62.53,249.53 62.58,249.81 62.64,250.09 62.90,250.04 62.96,249.73 63.01,249.43 63.05,249.06 63.08,248.79 63.11,248.48 63.14,248.15 63.17,247.79 63.20,247.41 63.23,247.00 63.25,246.56 63.28,246.09 63.31,245.60 63.33,245.34 63.34,245.08 63.36,244.81 63.37,244.53 63.39,244.25 63.40,243.96 63.42,243.67 63.43,243.36 63.45,243.06 63.46,242.74 63.48,242.42 63.49,242.09 63.50,241.76 63.52,241.42 63.53,241.08 63.55,240.72 63.56,240.37 63.58,240.00 63.59,239.63 63.61,239.26 63.62,238.88 63.64,238.49 63.65,238.10 63.67,237.70 63.68,237.30 63.70,236.89 63.71,236.48 63.73,236.06 63.74,235.63 63.75,235.21 63.77,234.77 63.78,234.33 63.80,233.89 63.81,233.44 63.83,232.99 63.84,232.54 63.86,232.08 63.87,231.61 63.89,231.14 63.90,230.67 63.92,230.20 63.93,229.72 63.95,229.24 63.96,228.75 63.97,228.26 63.99,227.77 64.00,227.27 64.02,226.78 64.03,226.28 64.05,225.77 64.06,225.27 64.08,224.76 64.09,224.25 64.11,223.74 64.12,223.23 64.14,222.72 64.15,222.20 64.17,221.69 64.18,221.17 64.20,220.65 64.21,220.13 64.22,219.61 64.24,219.09 64.25,218.57 64.27,218.05 64.28,217.53 64.30,217.01 64.31,216.49 64.33,215.97 64.34,215.45 64.36,214.93 64.37,214.42 64.39,213.90 64.40,213.39 64.42,212.87 64.43,212.36 64.44,211.85 64.46,211.34 64.47,210.84 64.49,210.33 64.50,209.83 64.52,209.33 64.53,208.84 64.55,208.34 64.56,207.85 64.58,207.36 64.59,206.88 64.61,206.39 64.62,205.91 64.64,205.44 64.65,204.97 64.67,204.50 64.68,204.03 64.69,203.57 64.71,203.11 64.72,202.66 64.74,202.21 64.75,201.76 64.77,201.32 64.78,200.88 64.80,200.45 64.81,200.02 64.83,199.60 64.84,199.18 64.86,198.76 64.87,198.35 64.89,197.94 64.90,197.54 64.92,197.15 64.93,196.76 64.94,196.37 64.96,195.99 64.97,195.61 64.99,195.24 65.00,194.88 65.02,194.51 65.03,194.16 65.05,193.81 65.06,193.46 65.08,193.12 65.09,192.79 65.11,192.46 65.12,192.13 65.14,191.81 65.15,191.50 65.16,191.19 65.18,190.89 65.19,190.59 65.21,190.30 65.22,190.01 65.24,189.73 65.25,189.45 65.27,189.18 65.28,188.92 65.30,188.66 65.31,188.40 65.34,187.91 65.37,187.44 65.40,186.99 65.43,186.56 65.46,186.15 65.49,185.76 65.52,185.39 65.55,185.04 65.58,184.72 65.61,184.41 65.64,184.12 65.66,183.86 65.71,183.49 65.75,183.18 65.80,182.90 65.86,182.60 65.93,182.32 66.19,182.24 66.28,182.51 66.34,182.77 66.40,183.09 66.44,183.37 66.49,183.68 66.53,184.03 66.58,184.41 66.60,184.68 66.63,184.96 66.66,185.26 66.69,185.57 66.72,185.89 66.75,186.23 66.78,186.58 66.81,186.94 66.84,187.31 66.87,187.70 66.90,188.10 66.93,188.51 66.96,188.93 66.99,189.36 67.02,189.81 67.05,190.26 67.07,190.73 67.10,191.20 67.13,191.69 67.16,192.19 67.18,192.44 67.19,192.69 67.21,192.95 67.22,193.21 67.24,193.47 67.25,193.73 67.27,193.99 67.28,194.26 67.30,194.53 67.31,194.80 67.32,195.07 67.34,195.35 67.35,195.63 67.37,195.91 67.38,196.19 67.40,196.47 67.41,196.75 67.43,197.04 67.44,197.33 67.46,197.62 67.47,197.91 67.49,198.20 67.50,198.49 67.52,198.79 67.53,199.08 67.54,199.38 67.56,199.68 67.57,199.98 67.59,200.28 67.60,200.59 67.62,200.89 67.63,201.20 67.65,201.50 67.66,201.81 67.68,202.12 67.69,202.43 67.71,202.73 67.72,203.04 67.74,203.36 67.75,203.67 67.77,203.98 67.78,204.29 67.79,204.60 67.81,204.92 67.82,205.23 67.84,205.55 67.85,205.86 67.87,206.18 67.88,206.49 67.90,206.81 67.91,207.12 67.93,207.44 67.94,207.75 67.96,208.06 67.97,208.38 67.99,208.69 68.00,209.01 68.02,209.32 68.03,209.63 68.04,209.95 68.06,210.26 68.07,210.57 68.09,210.88 68.10,211.19 68.12,211.50 68.13,211.81 68.15,212.12 68.16,212.43 68.18,212.74 68.19,213.04 68.21,213.34 68.22,213.65 68.24,213.95 68.25,214.25 68.26,214.55 68.28,214.85 68.29,215.15 68.31,215.44 68.32,215.74 68.34,216.03 68.35,216.32 68.37,216.61 68.38,216.90 68.40,217.18 68.41,217.47 68.43,217.75 68.44,218.03 68.46,218.31 68.47,218.59 68.49,218.86 68.50,219.13 68.51,219.40 68.53,219.67 68.54,219.94 68.56,220.20 68.57,220.46 68.59,220.72 68.60,220.98 68.62,221.23 68.63,221.49 68.66,221.98 68.69,222.47 68.72,222.95 68.75,223.41 68.78,223.86 68.81,224.31 68.84,224.74 68.87,225.15 68.90,225.56 68.93,225.95 68.96,226.33 68.98,226.70 69.01,227.05 69.04,227.39 69.07,227.72 69.10,228.03 69.13,228.33 69.16,228.61 69.19,228.88 69.22,229.14 69.26,229.49 69.31,229.81 69.35,230.10 69.40,230.35 69.45,230.63 69.53,230.89 69.79,231.02 69.90,230.73 69.95,230.48 70.01,230.17 70.06,229.89 70.10,229.58 70.15,229.24 70.19,228.87 70.22,228.61 70.25,228.33 70.28,228.04 70.31,227.73 70.34,227.41 70.37,227.08 70.40,226.74 70.42,226.38 70.45,226.02 70.48,225.64 70.51,225.25 70.54,224.85 70.57,224.44 70.60,224.02 70.63,223.59 70.66,223.15 70.69,222.70 70.72,222.25 70.75,221.79 70.78,221.32 70.81,220.84 70.84,220.35 70.87,219.86 70.89,219.37 70.92,218.87 70.94,218.61 70.95,218.36 70.97,218.11 70.98,217.85 71.00,217.60 71.01,217.34 71.03,217.08 71.04,216.82 71.06,216.56 71.07,216.30 71.09,216.04 71.10,215.78 71.12,215.52 71.13,215.26 71.14,215.00 71.16,214.74 71.17,214.47 71.19,214.21 71.20,213.95 71.22,213.69 71.23,213.42 71.25,213.16 71.26,212.90 71.28,212.64 71.29,212.38 71.31,212.11 71.32,211.85 71.34,211.59 71.35,211.33 71.36,211.07 71.38,210.82 71.39,210.56 71.41,210.30 71.42,210.04 71.44,209.79 71.45,209.53 71.47,209.28 71.48,209.03 71.50,208.78 71.51,208.53 71.54,208.03 71.57,207.54 71.60,207.05 71.63,206.57 71.66,206.10 71.69,205.63 71.72,205.17 71.75,204.71 71.78,204.27 71.81,203.83 71.84,203.40 71.86,202.97 71.89,202.56 71.92,202.15 71.95,201.76 71.98,201.37 72.01,200.99 72.04,200.63 72.07,200.27 72.10,199.92 72.13,199.58 72.16,199.26 72.19,198.94 72.22,198.63 72.25,198.34 72.28,198.05 72.31,197.78 72.33,197.51 72.36,197.26 72.41,196.90 72.45,196.57 72.50,196.26 72.54,195.98 72.58,195.72 72.64,195.41 72.70,195.15 72.78,194.89 72.88,194.63 73.14,194.57 73.27,194.84 73.36,195.14 73.44,195.44 73.50,195.73 73.55,196.04 73.60,196.30 73.64,196.58 73.69,196.88 73.73,197.19 73.77,197.52 73.82,197.86 73.86,198.22 73.91,198.60 73.94,198.85 73.97,199.12 73.99,199.39 74.02,199.66 74.05,199.94 74.08,200.23 74.11,200.52 74.14,200.81 74.17,201.11 74.20,201.42 74.23,201.73 74.26,202.04 74.29,202.35 74.32,202.67 74.35,203.00 74.38,203.32 74.41,203.65 74.44,203.99 74.46,204.32 74.49,204.66 74.52,205.00 74.55,205.34 74.58,205.68 74.61,206.02 74.64,206.36 74.67,206.71 74.70,207.06 74.73,207.40 74.76,207.75 74.79,208.09 74.82,208.44 74.85,208.78 74.88,209.13 74.91,209.47 74.94,209.81 74.96,210.15 74.99,210.49 75.02,210.83 75.05,211.16 75.08,211.49 75.11,211.82 75.14,212.14 75.17,212.47 75.20,212.79 75.23,213.10 75.26,213.41 75.29,213.72 75.32,214.03 75.35,214.32 75.38,214.62 75.41,214.91 75.43,215.19 75.46,215.47 75.49,215.75 75.52,216.02 75.55,216.28 75.58,216.54 75.61,216.79 75.65,217.15 75.70,217.50 75.74,217.84 75.79,218.15 75.83,218.46 75.88,218.75 75.92,219.02 75.96,219.27 76.02,219.58 76.08,219.86 76.15,220.16 76.23,220.41 76.33,220.67 76.60,220.87 76.79,220.59 76.89,220.29 76.96,220.03 77.04,219.71 77.09,219.43 77.15,219.12 77.21,218.78 77.26,218.51 77.30,218.23 77.34,217.94 77.39,217.63 77.43,217.31 77.48,216.98 77.52,216.64 77.56,216.29 77.61,215.93 77.65,215.57 77.70,215.19 77.73,214.94 77.76,214.69 77.79,214.43 77.81,214.17 77.84,213.90 77.87,213.64 77.90,213.37 77.93,213.11 77.96,212.84 77.99,212.57 78.02,212.30 78.05,212.03 78.08,211.76 78.11,211.49 78.14,211.21 78.17,210.94 78.20,210.67 78.23,210.41 78.26,210.14 78.28,209.87 78.31,209.61 78.34,209.34 78.37,209.08 78.40,208.82 78.43,208.56 78.46,208.31 78.49,208.06 78.53,207.68 78.58,207.32 78.62,206.96 78.67,206.61 78.71,206.27 78.76,205.93 78.80,205.61 78.84,205.29 78.89,204.99 78.93,204.70 78.98,204.42 79.02,204.15 79.06,203.89 79.12,203.56 79.18,203.26 79.24,202.97 79.30,202.71 79.37,202.42 79.45,202.17 79.53,201.91 79.65,201.66 79.92,201.43 80.18,201.66 80.31,201.94 80.42,202.23 80.50,202.52 80.58,202.80 80.65,203.10 80.71,203.35 80.77,203.63 80.83,203.91 80.89,204.21 80.94,204.52 81.00,204.84 81.06,205.17 81.11,205.42 81.15,205.68 81.19,205.95 81.24,206.21 81.28,206.48 81.33,206.76 81.37,207.03 81.41,207.31 81.46,207.59 81.50,207.87 81.55,208.15 81.59,208.43 81.63,208.71 81.68,208.99 81.72,209.27 81.77,209.54 81.81,209.82 81.86,210.09 81.90,210.36 81.94,210.63 81.99,210.89 82.03,211.15 82.08,211.40 82.13,211.73 82.19,212.06 82.25,212.37 82.31,212.67 82.37,212.96 82.43,213.23 82.49,213.50 82.56,213.80 82.63,214.09 82.71,214.35 82.80,214.63 82.90,214.91 83.02,215.17 83.21,215.43 83.47,215.48 83.71,215.23 83.84,214.97 83.94,214.72 84.03,214.46 84.12,214.18 84.19,213.93 84.26,213.66 84.34,213.37 84.41,213.07 84.47,212.82 84.53,212.56 84.59,212.30 84.65,212.03 84.71,211.75 84.76,211.47 84.82,211.19 84.88,210.91 84.94,210.63 85.00,210.35 85.06,210.06 85.12,209.78 85.18,209.50 85.23,209.23 85.29,208.96 85.35,208.69 85.41,208.43 85.47,208.18 85.54,207.87 85.62,207.58 85.69,207.30 85.76,207.03 85.84,206.78 85.92,206.50 86.01,206.24 86.12,205.98 86.23,205.72 86.38,205.47 86.64,205.22 86.91,205.22 87.17,205.47 87.34,205.74 87.47,206.00 87.58,206.28 87.69,206.55 87.79,206.84 87.88,207.10 87.97,207.37 88.06,207.65 88.14,207.94 88.23,208.24 88.32,208.54 88.39,208.79 88.47,209.04 88.55,209.34 88.64,209.63 88.73,209.92 88.82,210.20 88.91,210.48 89.00,210.74 89.08,211.00 89.19,211.27 89.29,211.53 89.41,211.79 89.54,212.05 89.70,212.31 89.94,212.57 90.20,212.67 90.46,212.59 90.73,212.32 90.91,212.06 91.05,211.80 91.18,211.53 91.30,211.27 91.42,211.00 91.54,210.72 91.64,210.46 91.74,210.20 91.85,209.94 91.95,209.68 92.05,209.42 92.15,209.17 92.27,208.90 92.39,208.63 92.52,208.36 92.65,208.11 92.82,207.83 93.01,207.57 93.27,207.32 93.54,207.21 93.80,207.24 94.06,207.39 94.33,207.66 94.52,207.91 94.70,208.18 94.86,208.45 95.00,208.70 95.15,208.97 95.30,209.23 95.45,209.50 95.59,209.76 95.75,210.03 95.92,210.28 96.11,210.55 96.33,210.80 96.59,211.03 96.86,211.15 97.12,211.17 97.38,211.10 97.65,210.93 97.91,210.69 98.15,210.43 98.35,210.17 98.55,209.92 98.74,209.67 98.93,209.41 99.13,209.16 99.35,208.91 99.62,208.65 99.88,208.46 100.15,208.33 100.41,208.28 100.68,208.30 100.94,208.39 101.20,208.54 101.47,208.74 101.73,208.97 102.00,209.22 102.26,209.48 102.53,209.72 102.79,209.94 103.06,210.13 103.32,210.26 103.58,210.35 103.85,210.39 104.11,210.37 104.38,210.30 104.64,210.19 104.91,210.04 105.17,209.87 105.44,209.69 105.70,209.50 105.96,209.32 106.23,209.16 106.49,209.03 106.76,208.93 107.02,208.87 107.29,208.85 107.55,208.87 107.82,208.92 108.08,209.00 108.34,209.11 108.61,209.24 108.87,209.37 109.14,209.50 109.40,209.63 109.67,209.75 109.93,209.84 110.20,209.91 110.46,209.96 110.72,209.97 110.99,209.96 111.25,209.92 111.52,209.86 111.78,209.78 112.05,209.68 112.31,209.59 112.58,209.49 112.84,209.39 113.11,209.31 113.37,209.24 113.63,209.19 113.90,209.16 114.16,209.15 114.43,209.17 114.69,209.20 114.96,209.24 115.22,209.30 115.49,209.37 115.75,209.44 116.01,209.51 116.28,209.58 116.54,209.64 116.81,209.69 117.07,209.72 117.34,209.74 117.60,209.75 117.87,209.74 118.13,209.72 118.39,209.68 118.66,209.64 118.92,209.59 119.19,209.54 119.45,209.49 119.72,209.44 119.98,209.39 120.25,209.36 120.51,209.33 120.77,209.32 121.04,209.32 121.30,209.32 121.57,209.34 121.83,209.37 122.10,209.40 122.36,209.43 122.63,209.47 122.89,209.51 123.15,209.55 123.42,209.58 123.68,209.60 123.95,209.62 124.21,209.63 124.48,209.63 124.74,209.62 125.01,209.61 125.27,209.59 125.53,209.57 125.80,209.54 126.06,209.52 126.33,209.49 126.59,209.46 126.86,209.44 127.12,209.42 127.39,209.41 127.65,209.40 127.91,209.40 128.18,209.41 128.44,209.42 128.71,209.43 128.97,209.45 129.24,209.47 129.50,209.49 129.77,209.51 130.03,209.53 130.29,209.54 130.56,209.55 130.82,209.56 131.09,209.57 131.35,209.57 131.62,209.56 131.88,209.56 132.15,209.55 132.41,209.53 132.67,209.52 132.94,209.51 133.20,209.49 133.47,209.48 133.73,209.47 134.00,209.46 134.26,209.45 134.53,209.45 134.79,209.45 135.05,209.45 135.32,209.46 135.58,209.46 135.85,209.47 136.11,209.48 136.38,209.49 136.64,209.50 136.91,209.51 137.17,209.52 137.44,209.53 137.70,209.53 137.96,209.54 138.23,209.54 138.49,209.53 138.76,209.53 139.02,209.52 139.29,209.52 139.55,209.51 139.82,209.50 140.08,209.49 140.34,209.49 140.61,209.48 140.87,209.48 141.14,209.47 141.40,209.47 141.67,209.47 141.93,209.47 142.20,209.48 142.46,209.48 142.72,209.49 142.99,209.49 143.25,209.50 143.52,209.50 143.78,209.51 144.05,209.51 144.31,209.51 144.58,209.52 144.84,209.52 145.10,209.52 145.37,209.52 145.63,209.51 145.90,209.51 146.16,209.51 146.43,209.50 146.69,209.50 146.96,209.50 147.22,209.49 147.48,209.49 147.75,209.49 148.01,209.48 148.28,209.48 148.54,209.48 148.81,209.49 149.07,209.49 149.34,209.49 149.60,209.49 149.86,209.49 150.13,209.50 150.39,209.50 150.66,209.50 150.92,209.51 151.19,209.51 151.45,209.51 151.72,209.51 151.98,209.51 152.24,209.51 152.51,209.51 152.77,209.50 153.04,209.50 153.30,209.50 153.57,209.50 153.83,209.50 154.10,209.49 154.36,209.49 154.62,209.49 154.89,209.49 155.15,209.49 155.42,209.49 155.68,209.49 155.95,209.49 156.21,209.49 156.48,209.49 156.74,209.50 157.00,209.50 157.27,209.50 157.53,209.50 157.80,209.50 158.06,209.50 158.33,209.50 158.59,209.50 158.86,209.50 159.12,209.50 159.39,209.50 159.65,209.50 159.91,209.50 160.18,209.50 160.44,209.50 160.71,209.50 160.97,209.50 161.24,209.50 161.50,209.49 161.77,209.49 162.03,209.49 162.29,209.49 162.56,209.49 162.82,209.50 163.09,209.50 163.35,209.50 163.62,209.50 163.88,209.50 164.15,209.50 164.41,209.50 164.67,209.50 164.94,209.50 165.20,209.50 165.47,209.50 165.73,209.50 166.00,209.50 166.26,209.50 166.53,209.50 166.79,209.50 167.05,209.50 167.32,209.50 167.58,209.50 167.85,209.50 168.11,209.50 168.38,209.50 168.64,209.50 168.91,209.50 169.17,209.50 169.43,209.50 169.70,209.50 169.96,209.50 170.23,209.50 170.49,209.50 170.76,209.50 171.02,209.50 171.29,209.50 171.55,209.50 171.81,209.50 172.08,209.50 172.34,209.50 172.61,209.50 172.87,209.50 173.14,209.50 173.40,209.50 173.67,209.50 173.93,209.50 174.19,209.50 174.46,209.50 174.72,209.50 174.99,209.50 175.25,209.50 175.52,209.50 175.78,209.50 176.05,209.50 176.31,209.50 176.57,209.50 176.84,209.50 177.10,209.50 177.37,209.50 177.63,209.50 177.90,209.50 178.16,209.50 178.43,209.50 178.69,209.50 178.95,209.50 179.22,209.50 179.48,209.50 179.75,209.50 180.01,209.50 180.28,209.50 180.54,209.50 180.81,209.50 181.07,209.50 181.33,209.50 181.60,209.50 181.86,209.50 182.13,209.50 182.39,209.50 182.66,209.50 182.92,209.50 183.19,209.50 183.45,209.50 183.72,209.50 183.98,209.50 184.24,209.50 184.51,209.50 184.77,209.50 185.04,209.50 185.30,209.50 185.57,209.50 185.83,209.50 186.10,209.50 186.36,209.50 186.62,209.50 186.89,209.50 187.15,209.50 187.42,209.50 187.68,209.50 187.95,209.50 188.21,209.50 188.48,209.50 188.74,209.50 189.00,209.50 189.27,209.50 189.53,209.50 189.80,209.50 190.06,209.50 190.33,209.50 190.59,209.50 190.86,209.50 191.12,209.50 191.38,209.50 191.65,209.50 191.91,209.50 192.18,209.50 192.44,209.50 192.71,209.50 192.97,209.50 193.24,209.50 193.50,209.50 193.76,209.50 194.03,209.50 194.29,209.50 194.56,209.50 194.82,209.50 195.09,209.50 195.35,209.50 195.62,209.50 195.88,209.50 196.14,209.50 196.41,209.50 196.67,209.50 196.94,209.50 197.20,209.50 197.47,209.50 197.73,209.50 198.00,209.50 198.26,209.50 198.52,209.50 198.79,209.50 199.05,209.50 199.32,209.50 199.58,209.50 199.85,209.50 200.11,209.50 200.38,209.50 200.64,209.50 200.90,209.50 201.17,209.50 201.43,209.50 201.70,209.50 201.96,209.50 202.23,209.50 202.49,209.50 202.76,209.50 203.02,209.50 203.28,209.50 203.55,209.50 203.81,209.50 204.08,209.50 204.34,209.50 204.61,209.50 204.87,209.50 205.14,209.50 205.40,209.50 205.67,209.50 205.93,209.50 206.19,209.50 206.46,209.50 206.72,209.50 206.99,209.50 207.25,209.50 207.52,209.50 207.78,209.50 208.05,209.50 208.31,209.50 208.57,209.50 208.84,209.50 209.10,209.50 209.37,209.50 209.63,209.50 209.90,209.50 210.16,209.50 210.43,209.50 210.69,209.50 210.95,209.50 211.22,209.50 211.48,209.50 211.75,209.50 212.01,209.50 212.28,209.50 212.54,209.50 212.81,209.50 213.07,209.50 213.33,209.50 213.60,209.50 213.86,209.50 214.13,209.50 214.39,209.50 214.66,209.50 214.92,209.50 215.19,209.50 215.45,209.50 215.71,209.50 215.98,209.50 216.24,209.50 216.51,209.50 216.77,209.50 217.04,209.50 217.30,209.50 217.57,209.50 217.83,209.50 218.09,209.50 218.36,209.50 218.58,209.50" stroke="#2a1ee6"/>
</g>
<g font-size="12.5" fill="#141414">
<text x="41.40" y="313.35" text-anchor="end">0</text>
<text x="38.05" y="259.82" text-anchor="end">0.3</text>
<text x="38.05" y="205.49" text-anchor="end">0.6</text>
<text x="38.05" y="152.16" text-anchor="end">0.9</text>
<text x="42.05" y="326.50" text-anchor="middle">0</text>
<text x="101.55" y="326.50" text-anchor="middle">600</text>
<text x="158.35" y="326.50" text-anchor="middle">1,200</text>
<text x="214.95" y="326.50" text-anchor="middle">1,800</text>
</g>
<text x="132.65" y="346.1" font-size="13.7" text-anchor="middle">Time (days)</text>
<text transform="translate(11.2 223.9) rotate(-90)" font-size="13.7" text-anchor="middle">Proportion</text>
<!-- panel c -->
<g stroke="#6c6c6c" stroke-width="0.85" fill="none">
<path d="M276.40 138.60V311.45H459.30"/>
</g>
<path d="M273.70 311.60H276.40M273.70 257.84H276.40M273.70 204.08H276.40M273.70 150.32H276.40M276.40 311.45V314.15M336.60 311.45V314.15M396.80 311.45V314.15M457.00 311.45V314.15" stroke="#5c5c5c" stroke-width="0.95" fill="none"/>
<path d="M274.70 298.16H276.40M274.70 284.72H276.40M274.70 271.28H276.40M274.70 244.40H276.40M274.70 230.96H276.40M274.70 217.52H276.40M274.70 190.64H276.40M274.70 177.20H276.40M274.70 163.76H276.40M286.43 311.45V313.25M296.47 311.45V313.25M306.50 311.45V313.25M316.53 311.45V313.25M326.57 311.45V313.25M346.63 311.45V313.25M356.67 311.45V313.25M366.70 311.45V313.25M376.73 311.45V313.25M386.77 311.45V313.25M406.83 311.45V313.25M416.87 311.45V313.25M426.90 311.45V313.25M436.93 311.45V313.25M446.97 311.45V313.25" stroke="#5c5c5c" stroke-width="0.9" fill="none"/>
<g fill="none" stroke-width="0.95" stroke-linejoin="round" style="mix-blend-mode:multiply">
<polyline points="276.40,308.91 276.48,308.64 276.55,308.35 276.61,308.09 276.68,307.81 276.74,307.51 276.80,307.18 276.84,306.92 276.89,306.65 276.94,306.36 276.98,306.05 277.03,305.73 277.07,305.38 277.12,305.02 277.15,304.77 277.18,304.51 277.21,304.23 277.24,303.95 277.27,303.66 277.30,303.36 277.33,303.05 277.36,302.72 277.39,302.38 277.43,302.04 277.46,301.68 277.49,301.30 277.52,300.92 277.55,300.52 277.58,300.10 277.61,299.67 277.64,299.23 277.67,298.77 277.70,298.30 277.73,297.81 277.75,297.56 277.76,297.30 277.78,297.04 277.79,296.78 277.81,296.51 277.82,296.24 277.84,295.96 277.85,295.68 277.87,295.40 277.88,295.11 277.90,294.81 277.91,294.51 277.93,294.21 277.95,293.90 277.96,293.59 277.98,293.27 277.99,292.94 278.01,292.61 278.02,292.28 278.04,291.94 278.05,291.60 278.07,291.25 278.08,290.89 278.10,290.53 278.11,290.17 278.13,289.80 278.14,289.42 278.16,289.04 278.18,288.65 278.19,288.26 278.21,287.86 278.22,287.45 278.24,287.04 278.25,286.63 278.27,286.21 278.28,285.78 278.30,285.35 278.31,284.91 278.33,284.46 278.34,284.01 278.36,283.55 278.37,283.09 278.39,282.62 278.40,282.14 278.42,281.66 278.44,281.17 278.45,280.68 278.47,280.17 278.48,279.67 278.50,279.15 278.51,278.63 278.53,278.11 278.54,277.58 278.56,277.04 278.57,276.49 278.59,275.94 278.60,275.38 278.62,274.82 278.63,274.25 278.65,273.67 278.66,273.08 278.68,272.49 278.70,271.90 278.71,271.29 278.73,270.69 278.74,270.07 278.76,269.45 278.77,268.82 278.79,268.19 278.80,267.55 278.82,266.90 278.83,266.25 278.85,265.59 278.86,264.92 278.88,264.25 278.89,263.57 278.91,262.89 278.92,262.20 278.94,261.51 278.96,260.81 278.97,260.10 278.99,259.39 279.00,258.67 279.02,257.95 279.03,257.22 279.05,256.49 279.06,255.75 279.08,255.01 279.09,254.26 279.11,253.50 279.12,252.74 279.14,251.98 279.15,251.21 279.17,250.44 279.18,249.66 279.20,248.88 279.22,248.10 279.23,247.31 279.25,246.51 279.26,245.72 279.28,244.91 279.29,244.11 279.31,243.30 279.32,242.49 279.34,241.68 279.35,240.86 279.37,240.04 279.38,239.21 279.40,238.39 279.41,237.56 279.43,236.73 279.45,235.90 279.46,235.06 279.48,234.22 279.49,233.38 279.51,232.54 279.52,231.70 279.54,230.86 279.55,230.02 279.57,229.17 279.58,228.32 279.60,227.48 279.61,226.63 279.63,225.78 279.64,224.94 279.66,224.09 279.67,223.24 279.69,222.40 279.71,221.55 279.72,220.71 279.74,219.86 279.75,219.02 279.77,218.18 279.78,217.34 279.80,216.50 279.81,215.66 279.83,214.82 279.84,213.99 279.86,213.16 279.87,212.33 279.89,211.50 279.90,210.68 279.92,209.85 279.93,209.04 279.95,208.22 279.97,207.41 279.98,206.60 280.00,205.79 280.01,204.99 280.03,204.19 280.04,203.39 280.06,202.60 280.07,201.82 280.09,201.03 280.10,200.25 280.12,199.48 280.13,198.71 280.15,197.95 280.16,197.19 280.18,196.43 280.19,195.68 280.21,194.93 280.23,194.19 280.24,193.46 280.26,192.73 280.27,192.00 280.29,191.28 280.30,190.57 280.32,189.86 280.33,189.16 280.35,188.46 280.36,187.77 280.38,187.09 280.39,186.41 280.41,185.73 280.42,185.07 280.44,184.40 280.46,183.75 280.47,183.10 280.49,182.46 280.50,181.82 280.52,181.19 280.53,180.57 280.55,179.95 280.56,179.34 280.58,178.73 280.59,178.13 280.61,177.54 280.62,176.95 280.64,176.37 280.65,175.80 280.67,175.23 280.68,174.67 280.70,174.12 280.72,173.57 280.73,173.03 280.75,172.49 280.76,171.97 280.78,171.44 280.79,170.93 280.81,170.42 280.82,169.91 280.84,169.42 280.85,168.93 280.87,168.44 280.88,167.96 280.90,167.49 280.91,167.02 280.93,166.56 280.94,166.11 280.96,165.66 280.98,165.22 280.99,164.79 281.01,164.36 281.02,163.93 281.04,163.51 281.05,163.10 281.07,162.69 281.08,162.29 281.10,161.90 281.11,161.51 281.13,161.12 281.14,160.75 281.16,160.37 281.17,160.01 281.19,159.64 281.20,159.29 281.22,158.94 281.24,158.59 281.25,158.25 281.27,157.91 281.28,157.58 281.30,157.26 281.31,156.93 281.33,156.62 281.34,156.31 281.36,156.00 281.37,155.70 281.39,155.40 281.40,155.11 281.42,154.82 281.43,154.54 281.45,154.26 281.46,153.99 281.48,153.72 281.50,153.46 281.51,153.19 281.53,152.94 281.54,152.69 281.57,152.19 281.60,151.72 281.63,151.25 281.66,150.81 281.69,150.38 281.73,149.96 281.76,149.56 281.79,149.17 281.82,148.79 281.85,148.43 281.88,148.08 281.91,147.74 281.94,147.42 281.97,147.10 282.00,146.80 282.03,146.50 282.06,146.22 282.09,145.95 282.12,145.68 282.15,145.43 282.20,145.06 282.25,144.72 282.29,144.39 282.34,144.08 282.38,143.79 282.43,143.51 282.47,143.25 282.54,142.92 282.60,142.62 282.66,142.33 282.72,142.07 282.80,141.77 282.87,141.50 282.96,141.20 283.06,140.94 283.16,140.67 283.29,140.40 283.42,140.14 283.59,139.88 283.81,139.63 284.07,139.39 284.33,139.22 284.59,139.10 284.85,139.02 285.11,138.96 285.37,138.91 285.63,138.88 285.89,138.86 286.15,138.84 286.41,138.83 286.67,138.82 286.93,138.82 287.19,138.81 287.45,138.81 287.71,138.81 287.97,138.80 288.23,138.80 288.49,138.80 288.75,138.80 289.01,138.80 289.27,138.80 289.53,138.80 289.79,138.80 290.05,138.80 290.31,138.80 290.57,138.80 290.83,138.80 291.09,138.80 291.35,138.80 291.61,138.80 291.87,138.80 292.13,138.80 292.39,138.80 292.65,138.80 292.91,138.80 293.17,138.80 293.43,138.80 293.69,138.80 293.95,138.80 294.21,138.80 294.47,138.80 294.73,138.80 294.99,138.80 295.25,138.80 295.51,138.80 295.77,138.80 296.03,138.80 296.29,138.80 296.55,138.80 296.81,138.80 297.07,138.80 297.33,138.80 297.59,138.80 297.85,138.80 298.11,138.80 298.37,138.80 298.63,138.80 298.89,138.80 299.15,138.80 299.41,138.80 299.67,138.80 299.93,138.80 300.19,138.80 300.45,138.80 300.72,138.80 300.98,138.80 301.24,138.80 301.50,138.80 301.76,138.80 302.02,138.80 302.28,138.80 302.54,138.80 302.80,138.80 303.06,138.80 303.32,138.80 303.58,138.80 303.84,138.80 304.10,138.80 304.36,138.80 304.62,138.80 304.88,138.80 305.14,138.80 305.40,138.80 305.66,138.80 305.92,138.80 306.18,138.80 306.44,138.80 306.70,138.80 306.96,138.80 307.22,138.80 307.48,138.80 307.74,138.80 308.00,138.80 308.26,138.80 308.52,138.80 308.78,138.80 309.04,138.80 309.30,138.80 309.56,138.80 309.82,138.80 310.08,138.80 310.34,138.80 310.60,138.80 310.86,138.80 311.12,138.80 311.38,138.80 311.64,138.80 311.90,138.80 312.16,138.80 312.42,138.80 312.68,138.80 312.94,138.80 313.20,138.80 313.46,138.80 313.72,138.80 313.98,138.80 314.24,138.80 314.50,138.80 314.76,138.80 315.02,138.80 315.28,138.80 315.54,138.80 315.80,138.80 316.06,138.80 316.32,138.80 316.58,138.80 316.84,138.80 317.10,138.80 317.36,138.80 317.62,138.80 317.88,138.80 318.14,138.80 318.40,138.80 318.66,138.80 318.92,138.80 319.18,138.80 319.44,138.80 319.70,138.80 319.97,138.80 320.23,138.80 320.49,138.80 320.75,138.80 321.01,138.80 321.27,138.80 321.53,138.80 321.79,138.80 322.05,138.80 322.31,138.80 322.57,138.80 322.83,138.80 323.09,138.80 323.35,138.80 323.61,138.80 323.87,138.80 324.13,138.80 324.39,138.80 324.65,138.80 324.91,138.80 325.17,138.80 325.43,138.80 325.69,138.80 325.95,138.80 326.21,138.80 326.47,138.80 326.73,138.80 326.99,138.80 327.25,138.80 327.51,138.80 327.77,138.80 328.03,138.80 328.29,138.80 328.55,138.80 328.81,138.80 329.07,138.80 329.33,138.80 329.59,138.80 329.85,138.80 330.11,138.80 330.37,138.80 330.63,138.80 330.89,138.80 331.15,138.80 331.41,138.80 331.67,138.80 331.93,138.80 332.19,138.80 332.45,138.80 332.71,138.80 332.97,138.80 333.23,138.80 333.49,138.80 333.75,138.80 334.01,138.80 334.27,138.80 334.53,138.80 334.79,138.80 335.05,138.80 335.31,138.80 335.57,138.80 335.83,138.80 336.09,138.80 336.35,138.80 336.61,138.80 336.87,138.80 337.13,138.80 337.39,138.80 337.65,138.80 337.91,138.80 338.17,138.80 338.43,138.80 338.69,138.80 338.96,138.80 339.22,138.80 339.48,138.80 339.74,138.80 340.00,138.80 340.26,138.80 340.52,138.80 340.78,138.80 341.04,138.80 341.30,138.80 341.56,138.80 341.82,138.80 342.08,138.80 342.34,138.80 342.60,138.80 342.86,138.80 343.12,138.80 343.38,138.80 343.64,138.80 343.90,138.80 344.16,138.80 344.42,138.80 344.68,138.80 344.94,138.80 345.20,138.80 345.46,138.81 345.72,138.81 345.98,138.81 346.24,138.81 346.50,138.81 346.76,138.81 347.02,138.81 347.28,138.81 347.54,138.81 347.80,138.81 348.06,138.81 348.32,138.81 348.58,138.81 348.84,138.81 349.10,138.81 349.36,138.81 349.62,138.81 349.88,138.81 350.14,138.81 350.40,138.82 350.66,138.82 350.92,138.82 351.18,138.82 351.44,138.82 351.70,138.82 351.96,138.82 352.22,138.82 352.48,138.82 352.74,138.83 353.00,138.83 353.26,138.83 353.52,138.83 353.78,138.83 354.04,138.84 354.30,138.84 354.56,138.84 354.82,138.84 355.08,138.84 355.34,138.85 355.60,138.85 355.86,138.85 356.12,138.86 356.38,138.86 356.64,138.86 356.90,138.87 357.16,138.87 357.42,138.88 357.68,138.88 357.94,138.89 358.21,138.89 358.47,138.90 358.73,138.90 358.99,138.91 359.25,138.91 359.51,138.92 359.77,138.93 360.03,138.94 360.29,138.94 360.55,138.95 360.81,138.96 361.07,138.97 361.33,138.98 361.59,138.99 361.85,139.00 362.11,139.02 362.37,139.03 362.63,139.04 362.89,139.06 363.15,139.07 363.41,139.09 363.67,139.10 363.93,139.12 364.19,139.14 364.45,139.16 364.71,139.18 364.97,139.20 365.23,139.23 365.49,139.25 365.75,139.28 366.01,139.30 366.27,139.33 366.53,139.36 366.79,139.39 367.05,139.43 367.31,139.46 367.57,139.50 367.83,139.53 368.09,139.57 368.35,139.62 368.61,139.66 368.87,139.71 369.13,139.75 369.39,139.80 369.65,139.86 369.91,139.91 370.17,139.97 370.43,140.02 370.69,140.08 370.95,140.15 371.21,140.21 371.47,140.28 371.73,140.35 371.99,140.42 372.25,140.50 372.51,140.57 372.77,140.65 373.03,140.73 373.29,140.82 373.55,140.90 373.81,140.99 374.07,141.08 374.33,141.17 374.59,141.26 374.85,141.35 375.11,141.45 375.37,141.54 375.63,141.64 375.89,141.74 376.15,141.84 376.41,141.94 376.67,142.04 376.93,142.13 377.19,142.23 377.46,142.33 377.72,142.43 377.98,142.53 378.24,142.62 378.50,142.72 378.76,142.81 379.02,142.90 379.28,142.99 379.54,143.08 379.80,143.17 380.06,143.25 380.32,143.34 380.58,143.42 380.84,143.50 381.10,143.57 381.36,143.64 381.62,143.71 381.88,143.78 382.14,143.85 382.40,143.91 382.66,143.97 382.92,144.03 383.18,144.08 383.44,144.13 383.70,144.18 383.96,144.23 384.22,144.28 384.48,144.32 384.74,144.36 385.00,144.40 385.26,144.43 385.52,144.47 385.78,144.50 386.04,144.53 386.30,144.56 386.56,144.58 386.82,144.61 387.08,144.63 387.34,144.65 387.60,144.68 387.86,144.69 388.12,144.71 388.38,144.73 388.64,144.74 388.90,144.76 389.16,144.77 389.42,144.78 389.68,144.80 389.94,144.81 390.20,144.82 390.46,144.83 390.72,144.84 390.98,144.84 391.24,144.85 391.50,144.86 391.76,144.86 392.02,144.87 392.28,144.88 392.54,144.88 392.80,144.89 393.06,144.89 393.32,144.89 393.58,144.90 393.84,144.90 394.10,144.91 394.36,144.91 394.62,144.91 394.88,144.91 395.14,144.92 395.40,144.92 395.66,144.92 395.92,144.92 396.18,144.92 396.45,144.93 396.71,144.93 396.97,144.93 397.23,144.93 397.49,144.93 397.75,144.93 398.01,144.93 398.27,144.93 398.53,144.93 398.79,144.93 399.05,144.94 399.31,144.94 399.57,144.94 399.83,144.94 400.09,144.94 400.35,144.94 400.61,144.94 400.87,144.94 401.13,144.94 401.39,144.94 401.65,144.94 401.91,144.94 402.17,144.94 402.43,144.94 402.69,144.94 402.95,144.94 403.21,144.94 403.47,144.94 403.73,144.94 403.99,144.94 404.25,144.94 404.51,144.94 404.77,144.94 405.03,144.94 405.29,144.94 405.55,144.94 405.81,144.94 406.07,144.94 406.33,144.94 406.59,144.94 406.85,144.94 407.11,144.94 407.37,144.94 407.63,144.94 407.89,144.94 408.15,144.94 408.41,144.94 408.67,144.94 408.93,144.94 409.19,144.94 409.45,144.94 409.71,144.94 409.97,144.94 410.23,144.94 410.49,144.94 410.75,144.94 411.01,144.94 411.27,144.94 411.53,144.94 411.79,144.94 412.05,144.94 412.31,144.94 412.57,144.94 412.83,144.94 413.09,144.94 413.35,144.94 413.61,144.94 413.87,144.94 414.13,144.94 414.39,144.94 414.65,144.94 414.91,144.94 415.17,144.94 415.43,144.94 415.70,144.94 415.96,144.94 416.22,144.94 416.48,144.94 416.74,144.94 417.00,144.94 417.26,144.94 417.52,144.94 417.78,144.94 418.04,144.94 418.30,144.94 418.56,144.94 418.82,144.94 419.08,144.94 419.34,144.94 419.60,144.94 419.86,144.94 420.12,144.94 420.38,144.94 420.64,144.94 420.90,144.94 421.16,144.94 421.42,144.94 421.68,144.94 421.94,144.94 422.20,144.94 422.46,144.94 422.72,144.94 422.98,144.94 423.24,144.94 423.50,144.94 423.76,144.94 424.02,144.94 424.28,144.94 424.54,144.94 424.80,144.94 425.06,144.94 425.32,144.94 425.58,144.94 425.84,144.94 426.10,144.94 426.36,144.94 426.62,144.94 426.88,144.94 427.14,144.94 427.40,144.94 427.66,144.94 427.92,144.94 428.18,144.94 428.44,144.94 428.70,144.94 428.96,144.94 429.22,144.94 429.48,144.94 429.74,144.94 430.00,144.94 430.26,144.94 430.52,144.94 430.78,144.94 431.04,144.94 431.30,144.94 431.56,144.94 431.82,144.94 432.08,144.94 432.34,144.94 432.60,144.94 432.86,144.94 433.12,144.94 433.38,144.94 433.64,144.94 433.90,144.94 434.16,144.94 434.42,144.94 434.69,144.94 434.95,144.94 435.21,144.94 435.47,144.94 435.73,144.94 435.99,144.94 436.25,144.94 436.51,144.94 436.77,144.94 437.03,144.94 437.29,144.94 437.55,144.94 437.81,144.94 438.07,144.94 438.33,144.94 438.59,144.94 438.85,144.94 439.11,144.94 439.37,144.94 439.63,144.94 439.89,144.94 440.15,144.94 440.41,144.94 440.67,144.94 440.93,144.94 441.19,144.94 441.45,144.94 441.71,144.94 441.97,144.94 442.23,144.94 442.49,144.94 442.75,144.94 443.01,144.94 443.27,144.94 443.53,144.94 443.79,144.94 444.05,144.94 444.31,144.94 444.57,144.94 444.83,144.94 445.09,144.94 445.35,144.94 445.61,144.94 445.87,144.94 446.13,144.94 446.39,144.94 446.65,144.94 446.91,144.94 447.17,144.94 447.43,144.94 447.69,144.94 447.95,144.94 448.21,144.94 448.47,144.94 448.73,144.94 448.99,144.94 449.25,144.94 449.51,144.94 449.77,144.94 450.03,144.94 450.29,144.94 450.55,144.94 450.81,144.94 451.07,144.94 451.33,144.94 451.59,144.94 451.85,144.94 452.11,144.94 452.37,144.94 452.63,144.94 452.89,144.94 453.15,144.94 453.41,144.94 453.67,144.94 453.94,144.94 454.20,144.94 454.46,144.94 454.72,144.94 454.98,144.94 455.24,144.94 455.50,144.94 455.76,144.94 456.02,144.94 456.28,144.94 456.54,144.94 456.80,144.94 457.06,144.94 457.32,144.94 457.58,144.94 457.84,144.94 458.10,144.94 458.36,144.94 458.62,144.94 458.88,144.94 459.14,144.94 459.20,144.94" stroke="#ee2a32"/>
<polyline points="276.40,308.91 276.43,309.36 276.46,309.74 276.49,310.05 276.52,310.31 276.57,310.63 276.63,310.93 276.72,311.21 276.90,311.47 277.17,311.57 277.43,311.59 277.69,311.60 277.95,311.60 278.21,311.60 278.47,311.60 278.73,311.60 278.99,311.60 279.25,311.60 279.51,311.60 279.77,311.60 280.03,311.60 280.29,311.60 280.55,311.60 280.81,311.60 281.07,311.60 281.33,311.60 281.59,311.60 281.85,311.60 282.11,311.60 282.37,311.60 282.63,311.60 282.89,311.60 283.15,311.60 283.41,311.60 283.67,311.60 283.93,311.60 284.19,311.60 284.45,311.60 284.71,311.60 284.97,311.60 285.23,311.60 285.49,311.60 285.75,311.60 286.01,311.60 286.27,311.60 286.53,311.60 286.79,311.60 287.05,311.60 287.31,311.60 287.57,311.60 287.83,311.60 288.09,311.60 288.35,311.60 288.61,311.60 288.87,311.60 289.13,311.60 289.39,311.60 289.65,311.60 289.91,311.60 290.17,311.60 290.43,311.60 290.69,311.60 290.95,311.60 291.21,311.60 291.47,311.60 291.73,311.60 291.99,311.60 292.25,311.60 292.51,311.60 292.77,311.60 293.03,311.60 293.29,311.60 293.55,311.60 293.81,311.60 294.07,311.60 294.33,311.60 294.59,311.60 294.85,311.60 295.11,311.60 295.37,311.60 295.63,311.60 295.89,311.60 296.16,311.60 296.42,311.60 296.68,311.60 296.94,311.60 297.20,311.60 297.46,311.60 297.72,311.60 297.98,311.60 298.24,311.60 298.50,311.60 298.76,311.60 299.02,311.60 299.28,311.60 299.54,311.60 299.80,311.60 300.06,311.60 300.32,311.60 300.58,311.60 300.84,311.60 301.10,311.60 301.36,311.60 301.62,311.60 301.88,311.60 302.14,311.60 302.40,311.60 302.66,311.60 302.92,311.60 303.18,311.60 303.44,311.60 303.70,311.60 303.96,311.60 304.22,311.60 304.48,311.60 304.74,311.60 305.00,311.60 305.26,311.60 305.52,311.60 305.78,311.60 306.04,311.60 306.30,311.60 306.56,311.60 306.82,311.60 307.08,311.60 307.34,311.60 307.60,311.60 307.86,311.60 308.12,311.60 308.38,311.60 308.64,311.60 308.90,311.60 309.16,311.60 309.42,311.60 309.68,311.60 309.94,311.60 310.20,311.60 310.46,311.60 310.72,311.60 310.98,311.60 311.24,311.60 311.50,311.60 311.76,311.60 312.02,311.60 312.28,311.60 312.54,311.60 312.80,311.60 313.06,311.60 313.32,311.60 313.58,311.60 313.84,311.60 314.10,311.60 314.36,311.60 314.62,311.60 314.88,311.60 315.14,311.60 315.41,311.60 315.67,311.60 315.93,311.60 316.19,311.60 316.45,311.60 316.71,311.60 316.97,311.60 317.23,311.60 317.49,311.60 317.75,311.60 318.01,311.60 318.27,311.60 318.53,311.60 318.79,311.60 319.05,311.60 319.31,311.60 319.57,311.60 319.83,311.60 320.09,311.60 320.35,311.60 320.61,311.60 320.87,311.60 321.13,311.60 321.39,311.60 321.65,311.60 321.91,311.60 322.17,311.60 322.43,311.60 322.69,311.60 322.95,311.60 323.21,311.60 323.47,311.60 323.73,311.60 323.99,311.60 324.25,311.60 324.51,311.60 324.77,311.60 325.03,311.60 325.29,311.60 325.55,311.60 325.81,311.60 326.07,311.60 326.33,311.60 326.59,311.60 326.85,311.60 327.11,311.60 327.37,311.60 327.63,311.60 327.89,311.60 328.15,311.60 328.41,311.60 328.67,311.60 328.93,311.60 329.19,311.60 329.45,311.60 329.71,311.60 329.97,311.60 330.23,311.60 330.49,311.60 330.75,311.60 331.01,311.60 331.27,311.60 331.53,311.60 331.79,311.60 332.05,311.60 332.31,311.60 332.57,311.60 332.83,311.60 333.09,311.60 333.35,311.60 333.61,311.60 333.87,311.60 334.13,311.60 334.39,311.60 334.66,311.60 334.92,311.60 335.18,311.60 335.44,311.60 335.70,311.60 335.96,311.60 336.22,311.60 336.48,311.60 336.74,311.60 337.00,311.60 337.26,311.60 337.52,311.60 337.78,311.60 338.04,311.60 338.30,311.60 338.56,311.60 338.82,311.60 339.08,311.60 339.34,311.60 339.60,311.60 339.86,311.60 340.12,311.60 340.38,311.59 340.64,311.59 340.90,311.59 341.16,311.59 341.42,311.59 341.68,311.59 341.94,311.59 342.20,311.59 342.46,311.59 342.72,311.59 342.98,311.59 343.24,311.59 343.50,311.59 343.76,311.59 344.02,311.59 344.28,311.59 344.54,311.59 344.80,311.59 345.06,311.58 345.32,311.58 345.58,311.58 345.84,311.58 346.10,311.58 346.36,311.58 346.62,311.58 346.88,311.58 347.14,311.58 347.40,311.57 347.66,311.57 347.92,311.57 348.18,311.57 348.44,311.57 348.70,311.57 348.96,311.56 349.22,311.56 349.48,311.56 349.74,311.56 350.00,311.55 350.26,311.55 350.52,311.55 350.78,311.54 351.04,311.54 351.30,311.54 351.56,311.53 351.82,311.53 352.08,311.53 352.34,311.52 352.60,311.52 352.86,311.51 353.12,311.51 353.38,311.50 353.65,311.49 353.91,311.49 354.17,311.48 354.43,311.47 354.69,311.47 354.95,311.46 355.21,311.45 355.47,311.44 355.73,311.43 355.99,311.42 356.25,311.41 356.51,311.40 356.77,311.38 357.03,311.37 357.29,311.36 357.55,311.34 357.81,311.33 358.07,311.31 358.33,311.29 358.59,311.28 358.85,311.26 359.11,311.24 359.37,311.21 359.63,311.19 359.89,311.17 360.15,311.14 360.41,311.11 360.67,311.08 360.93,311.05 361.19,311.02 361.45,310.99 361.71,310.95 361.97,310.91 362.23,310.87 362.49,310.83 362.75,310.78 363.01,310.74 363.27,310.69 363.53,310.63 363.79,310.58 364.05,310.52 364.31,310.46 364.57,310.39 364.83,310.32 365.09,310.25 365.35,310.18 365.61,310.10 365.87,310.01 366.13,309.92 366.39,309.83 366.65,309.73 366.91,309.63 367.17,309.52 367.43,309.41 367.69,309.30 367.95,309.17 368.21,309.05 368.47,308.91 368.73,308.77 368.99,308.63 369.25,308.48 369.51,308.32 369.77,308.16 370.03,307.99 370.29,307.81 370.55,307.63 370.81,307.44 371.07,307.25 371.33,307.05 371.59,306.85 371.85,306.63 372.11,306.42 372.37,306.19 372.63,305.97 372.90,305.73 373.16,305.50 373.42,305.25 373.68,305.01 373.94,304.76 374.20,304.50 374.46,304.25 374.72,303.99 374.98,303.73 375.24,303.47 375.50,303.20 375.76,302.94 376.02,302.68 376.28,302.42 376.54,302.15 376.80,301.90 377.06,301.64 377.32,301.38 377.58,301.13 377.84,300.89 378.10,300.64 378.36,300.41 378.62,300.17 378.88,299.94 379.14,299.72 379.40,299.51 379.66,299.30 379.92,299.10 380.18,298.90 380.44,298.71 380.70,298.53 380.96,298.35 381.22,298.18 381.48,298.02 381.74,297.87 382.00,297.72 382.26,297.58 382.52,297.45 382.78,297.32 383.04,297.20 383.30,297.09 383.56,296.98 383.82,296.88 384.08,296.78 384.34,296.69 384.60,296.61 384.86,296.53 385.12,296.45 385.38,296.38 385.64,296.31 385.90,296.25 386.16,296.19 386.42,296.14 386.68,296.09 386.94,296.04 387.20,296.00 387.46,295.96 387.72,295.92 387.98,295.88 388.24,295.85 388.50,295.82 388.76,295.79 389.02,295.76 389.28,295.74 389.54,295.72 389.80,295.69 390.06,295.67 390.32,295.66 390.58,295.64 390.84,295.62 391.10,295.61 391.36,295.60 391.62,295.58 391.89,295.57 392.15,295.56 392.41,295.55 392.67,295.54 392.93,295.53 393.19,295.53 393.45,295.52 393.71,295.51 393.97,295.51 394.23,295.50 394.49,295.49 394.75,295.49 395.01,295.49 395.27,295.48 395.53,295.48 395.79,295.47 396.05,295.47 396.31,295.47 396.57,295.46 396.83,295.46 397.09,295.46 397.35,295.46 397.61,295.46 397.87,295.45 398.13,295.45 398.39,295.45 398.65,295.45 398.91,295.45 399.17,295.45 399.43,295.45 399.69,295.44 399.95,295.44 400.21,295.44 400.47,295.44 400.73,295.44 400.99,295.44 401.25,295.44 401.51,295.44 401.77,295.44 402.03,295.44 402.29,295.44 402.55,295.44 402.81,295.44 403.07,295.44 403.33,295.44 403.59,295.44 403.85,295.44 404.11,295.43 404.37,295.43 404.63,295.43 404.89,295.43 405.15,295.43 405.41,295.43 405.67,295.43 405.93,295.43 406.19,295.43 406.45,295.43 406.71,295.43 406.97,295.43 407.23,295.43 407.49,295.43 407.75,295.43 408.01,295.43 408.27,295.43 408.53,295.43 408.79,295.43 409.05,295.43 409.31,295.43 409.57,295.43 409.83,295.43 410.09,295.43 410.35,295.43 410.61,295.43 410.87,295.43 411.14,295.43 411.40,295.43 411.66,295.43 411.92,295.43 412.18,295.43 412.44,295.43 412.70,295.43 412.96,295.43 413.22,295.43 413.48,295.43 413.74,295.43 414.00,295.43 414.26,295.43 414.52,295.43 414.78,295.43 415.04,295.43 415.30,295.43 415.56,295.43 415.82,295.43 416.08,295.43 416.34,295.43 416.60,295.43 416.86,295.43 417.12,295.43 417.38,295.43 417.64,295.43 417.90,295.43 418.16,295.43 418.42,295.43 418.68,295.43 418.94,295.43 419.20,295.43 419.46,295.43 419.72,295.43 419.98,295.43 420.24,295.43 420.50,295.43 420.76,295.43 421.02,295.43 421.28,295.43 421.54,295.43 421.80,295.43 422.06,295.43 422.32,295.43 422.58,295.43 422.84,295.43 423.10,295.43 423.36,295.43 423.62,295.43 423.88,295.43 424.14,295.43 424.40,295.43 424.66,295.43 424.92,295.43 425.18,295.43 425.44,295.43 425.70,295.43 425.96,295.43 426.22,295.43 426.48,295.43 426.74,295.43 427.00,295.43 427.26,295.43 427.52,295.43 427.78,295.43 428.04,295.43 428.30,295.43 428.56,295.43 428.82,295.43 429.08,295.43 429.34,295.43 429.60,295.43 429.86,295.43 430.12,295.43 430.39,295.43 430.65,295.43 430.91,295.43 431.17,295.43 431.43,295.43 431.69,295.43 431.95,295.43 432.21,295.43 432.47,295.43 432.73,295.43 432.99,295.43 433.25,295.43 433.51,295.43 433.77,295.43 434.03,295.43 434.29,295.43 434.55,295.43 434.81,295.43 435.07,295.43 435.33,295.43 435.59,295.43 435.85,295.43 436.11,295.43 436.37,295.43 436.63,295.43 436.89,295.43 437.15,295.43 437.41,295.43 437.67,295.43 437.93,295.43 438.19,295.43 438.45,295.43 438.71,295.43 438.97,295.43 439.23,295.43 439.49,295.43 439.75,295.43 440.01,295.43 440.27,295.43 440.53,295.43 440.79,295.43 441.05,295.43 441.31,295.43 441.57,295.43 441.83,295.43 442.09,295.43 442.35,295.43 442.61,295.43 442.87,295.43 443.13,295.43 443.39,295.43 443.65,295.43 443.91,295.43 444.17,295.43 444.43,295.43 444.69,295.43 444.95,295.43 445.21,295.43 445.47,295.43 445.73,295.43 445.99,295.43 446.25,295.43 446.51,295.43 446.77,295.43 447.03,295.43 447.29,295.43 447.55,295.43 447.81,295.43 448.07,295.43 448.33,295.43 448.59,295.43 448.85,295.43 449.11,295.43 449.38,295.43 449.64,295.43 449.90,295.43 450.16,295.43 450.42,295.43 450.68,295.43 450.94,295.43 451.20,295.43 451.46,295.43 451.72,295.43 451.98,295.43 452.24,295.43 452.50,295.43 452.76,295.43 453.02,295.43 453.28,295.43 453.54,295.43 453.80,295.43 454.06,295.43 454.32,295.43 454.58,295.43 454.84,295.43 455.10,295.43 455.36,295.43 455.62,295.43 455.88,295.43 456.14,295.43 456.40,295.43 456.66,295.43 456.92,295.43 457.09,295.43" stroke="#2a1ee6"/>
</g>
<g font-size="12.5" fill="#141414">
<text x="269.10" y="315.20" text-anchor="end">0</text>
<text x="270.80" y="262.24" text-anchor="end">0.2</text>
<text x="270.80" y="208.48" text-anchor="end">0.4</text>
<text x="270.80" y="153.62" text-anchor="end">0.6</text>
<text x="276.00" y="327.45" text-anchor="middle">0</text>
<text x="336.10" y="327.45" text-anchor="middle">600</text>
<text x="398.30" y="327.45" text-anchor="middle">1,200</text>
<text x="457.60" y="327.45" text-anchor="middle">1,800</text>
</g>
<text x="373.4" y="346.1" font-size="13.65" text-anchor="middle">Time (days)</text>
<text transform="translate(241.9 229.6) rotate(-90)" font-size="13.7" text-anchor="middle">Proportion</text>
<!-- panel d -->
<g stroke="#6c6c6c" stroke-width="0.85" fill="none">
<path d="M508.30 138.20V311.90H671.90"/>
</g>
<path d="M505.60 311.90H508.30M505.60 257.90H508.30M505.60 203.90H508.30M505.60 149.90H508.30M508.30 311.90V314.60M562.10 311.90V314.60M615.90 311.90V314.60M669.70 311.90V314.60" stroke="#5c5c5c" stroke-width="0.95" fill="none"/>
<path d="M506.60 298.40H508.30M506.60 284.90H508.30M506.60 271.40H508.30M506.60 244.40H508.30M506.60 230.90H508.30M506.60 217.40H508.30M506.60 190.40H508.30M506.60 176.90H508.30M506.60 163.40H508.30M517.27 311.90V313.70M526.23 311.90V313.70M535.20 311.90V313.70M544.17 311.90V313.70M553.13 311.90V313.70M571.07 311.90V313.70M580.03 311.90V313.70M589.00 311.90V313.70M597.97 311.90V313.70M606.93 311.90V313.70M624.87 311.90V313.70M633.83 311.90V313.70M642.80 311.90V313.70M651.77 311.90V313.70M660.73 311.90V313.70" stroke="#5c5c5c" stroke-width="0.9" fill="none"/>
<g fill="none" stroke-width="0.95" stroke-linejoin="round" style="mix-blend-mode:multiply">
<polyline points="508.30,309.20 508.37,308.93 508.44,308.63 508.49,308.37 508.55,308.09 508.60,307.79 508.66,307.46 508.70,307.20 508.74,306.92 508.78,306.63 508.82,306.32 508.86,306.00 508.90,305.65 508.94,305.29 508.97,305.03 509.00,304.77 509.02,304.50 509.05,304.22 509.08,303.92 509.11,303.62 509.13,303.30 509.16,302.98 509.19,302.64 509.22,302.29 509.24,301.93 509.27,301.55 509.30,301.16 509.33,300.76 509.35,300.35 509.38,299.92 509.41,299.47 509.44,299.01 509.46,298.54 509.49,298.04 509.50,297.79 509.52,297.54 509.53,297.27 509.54,297.01 509.56,296.74 509.57,296.47 509.59,296.19 509.60,295.91 509.61,295.62 509.63,295.33 509.64,295.03 509.65,294.73 509.67,294.43 509.68,294.11 509.69,293.80 509.71,293.48 509.72,293.15 509.74,292.82 509.75,292.49 509.76,292.15 509.78,291.80 509.79,291.45 509.80,291.09 509.82,290.73 509.83,290.36 509.85,289.99 509.86,289.61 509.87,289.23 509.89,288.84 509.90,288.45 509.91,288.05 509.93,287.64 509.94,287.23 509.95,286.81 509.97,286.39 509.98,285.96 510.00,285.52 510.01,285.08 510.02,284.63 510.04,284.18 510.05,283.72 510.06,283.25 510.08,282.78 510.09,282.30 510.11,281.82 510.12,281.32 510.13,280.83 510.15,280.32 510.16,279.81 510.17,279.30 510.19,278.78 510.20,278.25 510.21,277.71 510.23,277.17 510.24,276.62 510.26,276.07 510.27,275.51 510.28,274.94 510.30,274.37 510.31,273.79 510.32,273.20 510.34,272.61 510.35,272.01 510.36,271.40 510.38,270.79 510.39,270.17 510.41,269.55 510.42,268.92 510.43,268.28 510.45,267.64 510.46,266.99 510.47,266.33 510.49,265.67 510.50,265.00 510.52,264.33 510.53,263.65 510.54,262.96 510.56,262.27 510.57,261.57 510.58,260.87 510.60,260.16 510.61,259.44 510.62,258.72 510.64,258.00 510.65,257.26 510.67,256.53 510.68,255.79 510.69,255.04 510.71,254.29 510.72,253.53 510.73,252.77 510.75,252.00 510.76,251.23 510.78,250.45 510.79,249.67 510.80,248.89 510.82,248.10 510.83,247.30 510.84,246.51 510.86,245.71 510.87,244.90 510.88,244.09 510.90,243.28 510.91,242.47 510.93,241.65 510.94,240.83 510.95,240.00 510.97,239.17 510.98,238.34 510.99,237.51 511.01,236.68 511.02,235.84 511.04,235.00 511.05,234.16 511.06,233.32 511.08,232.47 511.09,231.63 511.10,230.78 511.12,229.93 511.13,229.09 511.14,228.24 511.16,227.39 511.17,226.54 511.19,225.68 511.20,224.83 511.21,223.98 511.23,223.13 511.24,222.28 511.25,221.43 511.27,220.58 511.28,219.74 511.29,218.89 511.31,218.04 511.32,217.20 511.34,216.36 511.35,215.51 511.36,214.67 511.38,213.84 511.39,213.00 511.40,212.17 511.42,211.34 511.43,210.51 511.45,209.68 511.46,208.86 511.47,208.04 511.49,207.23 511.50,206.41 511.51,205.60 511.53,204.80 511.54,203.99 511.55,203.20 511.57,202.40 511.58,201.61 511.60,200.82 511.61,200.04 511.62,199.26 511.64,198.49 511.65,197.72 511.66,196.96 511.68,196.20 511.69,195.45 511.71,194.70 511.72,193.95 511.73,193.22 511.75,192.48 511.76,191.75 511.77,191.03 511.79,190.31 511.80,189.60 511.81,188.90 511.83,188.20 511.84,187.50 511.86,186.82 511.87,186.13 511.88,185.46 511.90,184.79 511.91,184.12 511.92,183.47 511.94,182.81 511.95,182.17 511.96,181.53 511.98,180.90 511.99,180.27 512.01,179.65 512.02,179.03 512.03,178.43 512.05,177.82 512.06,177.23 512.07,176.64 512.09,176.06 512.10,175.48 512.12,174.91 512.13,174.35 512.14,173.79 512.16,173.24 512.17,172.70 512.18,172.16 512.20,171.63 512.21,171.11 512.22,170.59 512.24,170.08 512.25,169.57 512.27,169.07 512.28,168.58 512.29,168.09 512.31,167.61 512.32,167.14 512.33,166.67 512.35,166.21 512.36,165.75 512.38,165.30 512.39,164.86 512.40,164.42 512.42,163.99 512.43,163.56 512.44,163.14 512.46,162.73 512.47,162.32 512.48,161.92 512.50,161.52 512.51,161.13 512.53,160.75 512.54,160.37 512.55,159.99 512.57,159.62 512.58,159.26 512.59,158.90 512.61,158.55 512.62,158.20 512.64,157.86 512.65,157.52 512.66,157.19 512.68,156.86 512.69,156.54 512.70,156.22 512.72,155.91 512.73,155.60 512.74,155.30 512.76,155.00 512.77,154.71 512.79,154.42 512.80,154.14 512.81,153.86 512.83,153.58 512.84,153.31 512.85,153.04 512.87,152.78 512.88,152.52 512.89,152.27 512.92,151.78 512.95,151.30 512.98,150.83 513.00,150.39 513.03,149.95 513.06,149.54 513.09,149.13 513.11,148.74 513.14,148.36 513.17,148.00 513.20,147.65 513.22,147.31 513.25,146.98 513.28,146.66 513.31,146.36 513.33,146.06 513.36,145.78 513.39,145.50 513.41,145.24 513.44,144.98 513.48,144.62 513.52,144.27 513.56,143.94 513.61,143.63 513.65,143.34 513.69,143.06 513.73,142.79 513.78,142.47 513.84,142.16 513.89,141.88 513.95,141.61 514.02,141.31 514.08,141.04 514.17,140.74 514.25,140.48 514.34,140.20 514.45,139.93 514.58,139.68 514.73,139.42 514.92,139.16 515.18,138.90 515.44,138.72 515.70,138.60 515.96,138.52 516.22,138.46 516.48,138.42 516.74,138.39 517.00,138.37 517.26,138.36 517.52,138.35 517.78,138.34 518.04,138.34 518.30,138.34 518.56,138.33 518.82,138.33 519.08,138.33 519.34,138.33 519.60,138.33 519.86,138.33 520.12,138.33 520.38,138.33 520.64,138.33 520.89,138.33 521.15,138.33 521.41,138.33 521.67,138.33 521.93,138.33 522.19,138.33 522.45,138.33 522.71,138.33 522.97,138.33 523.23,138.33 523.49,138.33 523.75,138.33 524.01,138.33 524.27,138.33 524.53,138.33 524.79,138.33 525.05,138.33 525.31,138.33 525.57,138.33 525.83,138.33 526.09,138.33 526.35,138.33 526.61,138.33 526.87,138.33 527.13,138.33 527.39,138.33 527.65,138.33 527.91,138.33 528.17,138.33 528.43,138.33 528.69,138.33 528.95,138.33 529.21,138.33 529.47,138.33 529.73,138.33 529.99,138.33 530.25,138.33 530.51,138.33 530.77,138.33 531.03,138.33 531.29,138.33 531.55,138.33 531.81,138.33 532.07,138.33 532.33,138.33 532.59,138.33 532.85,138.33 533.11,138.33 533.37,138.33 533.63,138.33 533.89,138.33 534.15,138.33 534.41,138.33 534.67,138.33 534.93,138.33 535.19,138.33 535.45,138.33 535.71,138.33 535.97,138.33 536.22,138.33 536.48,138.33 536.74,138.33 537.00,138.33 537.26,138.33 537.52,138.33 537.78,138.33 538.04,138.33 538.30,138.33 538.56,138.33 538.82,138.33 539.08,138.33 539.34,138.33 539.60,138.33 539.86,138.33 540.12,138.33 540.38,138.33 540.64,138.33 540.90,138.33 541.16,138.33 541.42,138.33 541.68,138.33 541.94,138.33 542.20,138.33 542.46,138.33 542.72,138.33 542.98,138.33 543.24,138.33 543.50,138.33 543.76,138.33 544.02,138.33 544.28,138.33 544.54,138.33 544.80,138.33 545.06,138.33 545.32,138.33 545.58,138.33 545.84,138.33 546.10,138.33 546.36,138.33 546.62,138.33 546.88,138.33 547.14,138.33 547.40,138.33 547.66,138.33 547.92,138.33 548.18,138.33 548.44,138.33 548.70,138.33 548.96,138.33 549.22,138.33 549.48,138.33 549.74,138.33 550.00,138.33 550.26,138.33 550.52,138.33 550.78,138.33 551.04,138.33 551.30,138.33 551.55,138.33 551.81,138.33 552.07,138.33 552.33,138.33 552.59,138.33 552.85,138.33 553.11,138.33 553.37,138.33 553.63,138.33 553.89,138.33 554.15,138.33 554.41,138.33 554.67,138.33 554.93,138.33 555.19,138.33 555.45,138.33 555.71,138.33 555.97,138.33 556.23,138.33 556.49,138.33 556.75,138.33 557.01,138.33 557.27,138.33 557.53,138.33 557.79,138.33 558.05,138.33 558.31,138.33 558.57,138.33 558.83,138.33 559.09,138.33 559.35,138.33 559.61,138.33 559.87,138.33 560.13,138.33 560.39,138.33 560.65,138.33 560.91,138.33 561.17,138.33 561.43,138.33 561.69,138.33 561.95,138.33 562.21,138.33 562.47,138.33 562.73,138.33 562.99,138.33 563.25,138.33 563.51,138.33 563.77,138.33 564.03,138.33 564.29,138.33 564.55,138.33 564.81,138.33 565.07,138.33 565.33,138.33 565.59,138.33 565.85,138.33 566.11,138.33 566.37,138.33 566.63,138.33 566.89,138.33 567.14,138.33 567.40,138.33 567.66,138.33 567.92,138.33 568.18,138.33 568.44,138.33 568.70,138.33 568.96,138.33 569.22,138.33 569.48,138.33 569.74,138.33 570.00,138.33 570.26,138.33 570.52,138.33 570.78,138.33 571.04,138.33 571.30,138.33 571.56,138.33 571.82,138.33 572.08,138.33 572.34,138.33 572.60,138.33 572.86,138.33 573.12,138.33 573.38,138.33 573.64,138.33 573.90,138.33 574.16,138.33 574.42,138.33 574.68,138.33 574.94,138.33 575.20,138.33 575.46,138.33 575.72,138.33 575.98,138.33 576.24,138.33 576.50,138.33 576.76,138.33 577.02,138.33 577.28,138.33 577.54,138.33 577.80,138.33 578.06,138.33 578.32,138.33 578.58,138.33 578.84,138.33 579.10,138.33 579.36,138.33 579.62,138.33 579.88,138.33 580.14,138.33 580.40,138.33 580.66,138.33 580.92,138.33 581.18,138.33 581.44,138.33 581.70,138.33 581.96,138.33 582.22,138.33 582.47,138.33 582.73,138.33 582.99,138.33 583.25,138.33 583.51,138.33 583.77,138.33 584.03,138.33 584.29,138.33 584.55,138.33 584.81,138.33 585.07,138.33 585.33,138.33 585.59,138.33 585.85,138.33 586.11,138.33 586.37,138.33 586.63,138.33 586.89,138.33 587.15,138.33 587.41,138.33 587.67,138.33 587.93,138.33 588.19,138.33 588.45,138.33 588.71,138.33 588.97,138.33 589.23,138.33 589.49,138.33 589.75,138.33 590.01,138.33 590.27,138.33 590.53,138.33 590.79,138.33 591.05,138.33 591.31,138.33 591.57,138.33 591.83,138.33 592.09,138.33 592.35,138.33 592.61,138.33 592.87,138.33 593.13,138.33 593.39,138.33 593.65,138.33 593.91,138.33 594.17,138.33 594.43,138.33 594.69,138.33 594.95,138.33 595.21,138.33 595.47,138.33 595.73,138.33 595.99,138.33 596.25,138.33 596.51,138.33 596.77,138.33 597.03,138.33 597.29,138.33 597.55,138.33 597.80,138.33 598.06,138.33 598.32,138.33 598.58,138.33 598.84,138.33 599.10,138.33 599.36,138.33 599.62,138.33 599.88,138.33 600.14,138.33 600.40,138.33 600.66,138.33 600.92,138.33 601.18,138.33 601.44,138.33 601.70,138.33 601.96,138.33 602.22,138.33 602.48,138.33 602.74,138.33 603.00,138.33 603.26,138.33 603.52,138.33 603.78,138.33 604.04,138.33 604.30,138.33 604.56,138.33 604.82,138.33 605.08,138.33 605.34,138.33 605.60,138.33 605.86,138.33 606.12,138.33 606.38,138.33 606.64,138.33 606.90,138.33 607.16,138.33 607.42,138.33 607.68,138.33 607.94,138.33 608.20,138.33 608.46,138.33 608.72,138.33 608.98,138.33 609.24,138.33 609.50,138.33 609.76,138.33 610.02,138.33 610.28,138.33 610.54,138.33 610.80,138.33 611.06,138.33 611.32,138.33 611.58,138.33 611.84,138.33 612.10,138.33 612.36,138.33 612.62,138.33 612.88,138.33 613.13,138.33 613.39,138.33 613.65,138.33 613.91,138.33 614.17,138.33 614.43,138.33 614.69,138.33 614.95,138.33 615.21,138.33 615.47,138.33 615.73,138.33 615.99,138.33 616.25,138.33 616.51,138.33 616.77,138.33 617.03,138.33 617.29,138.33 617.55,138.33 617.81,138.33 618.07,138.33 618.33,138.33 618.59,138.33 618.85,138.33 619.11,138.33 619.37,138.33 619.63,138.33 619.89,138.33 620.15,138.33 620.41,138.33 620.67,138.33 620.93,138.33 621.19,138.33 621.45,138.33 621.71,138.33 621.97,138.33 622.23,138.33 622.49,138.33 622.75,138.33 623.01,138.33 623.27,138.33 623.53,138.33 623.79,138.33 624.05,138.33 624.31,138.33 624.57,138.33 624.83,138.33 625.09,138.33 625.35,138.33 625.61,138.33 625.87,138.33 626.13,138.33 626.39,138.33 626.65,138.33 626.91,138.33 627.17,138.33 627.43,138.33 627.69,138.33 627.95,138.33 628.21,138.33 628.46,138.33 628.72,138.33 628.98,138.33 629.24,138.33 629.50,138.33 629.76,138.33 630.02,138.33 630.28,138.33 630.54,138.33 630.80,138.33 631.06,138.33 631.32,138.33 631.58,138.33 631.84,138.33 632.10,138.33 632.36,138.33 632.62,138.33 632.88,138.33 633.14,138.33 633.40,138.33 633.66,138.33 633.92,138.33 634.18,138.33 634.44,138.33 634.70,138.33 634.96,138.33 635.22,138.33 635.48,138.33 635.74,138.33 636.00,138.33 636.26,138.33 636.52,138.33 636.78,138.33 637.04,138.33 637.30,138.33 637.56,138.33 637.82,138.33 638.08,138.33 638.34,138.33 638.60,138.33 638.86,138.33 639.12,138.33 639.38,138.33 639.64,138.33 639.90,138.33 640.16,138.33 640.42,138.33 640.68,138.33 640.94,138.33 641.20,138.33 641.46,138.33 641.72,138.33 641.98,138.33 642.24,138.33 642.50,138.33 642.76,138.33 643.02,138.33 643.28,138.33 643.54,138.33 643.79,138.33 644.05,138.33 644.31,138.33 644.57,138.33 644.83,138.33 645.09,138.33 645.35,138.33 645.61,138.33 645.87,138.33 646.13,138.33 646.39,138.33 646.65,138.33 646.91,138.33 647.17,138.33 647.43,138.33 647.69,138.33 647.95,138.33 648.21,138.33 648.47,138.33 648.73,138.33 648.99,138.33 649.25,138.33 649.51,138.33 649.77,138.33 650.03,138.33 650.29,138.33 650.55,138.33 650.81,138.33 651.07,138.33 651.33,138.33 651.59,138.33 651.85,138.33 652.11,138.33 652.37,138.33 652.63,138.33 652.89,138.33 653.15,138.33 653.41,138.33 653.67,138.33 653.93,138.33 654.19,138.33 654.45,138.33 654.71,138.33 654.97,138.33 655.23,138.33 655.49,138.33 655.75,138.33 656.01,138.33 656.27,138.33 656.53,138.33 656.79,138.33 657.05,138.33 657.31,138.33 657.57,138.33 657.83,138.33 658.09,138.33 658.35,138.33 658.61,138.33 658.87,138.33 659.12,138.33 659.38,138.33 659.64,138.33 659.90,138.33 660.16,138.33 660.42,138.33 660.68,138.33 660.94,138.33 661.20,138.33 661.46,138.33 661.72,138.33 661.98,138.33 662.24,138.33 662.50,138.33 662.76,138.33 663.02,138.33 663.28,138.33 663.54,138.33 663.80,138.33 664.06,138.33 664.32,138.33 664.58,138.33 664.84,138.33 665.10,138.33 665.36,138.33 665.62,138.33 665.88,138.33 666.14,138.33 666.40,138.33 666.66,138.33 666.92,138.33 667.18,138.33 667.44,138.33 667.70,138.33 667.96,138.33 668.22,138.33 668.48,138.33 668.74,138.33 669.00,138.33 669.26,138.33 669.52,138.33 669.78,138.33 670.04,138.33 670.30,138.33 670.56,138.33 670.82,138.33 671.08,138.33 671.34,138.33 671.60,138.33 671.67,138.33" stroke="#ee2a32"/>
<polyline points="508.30,309.20 508.31,309.47 508.34,309.93 508.37,310.30 508.40,310.60 508.44,310.95 508.48,311.21 508.55,311.49 508.67,311.74 508.93,311.88 509.19,311.90 509.45,311.90 509.71,311.90 509.97,311.90 510.23,311.90 510.49,311.90 510.75,311.90 511.01,311.90 511.27,311.90 511.53,311.90 511.79,311.90 512.05,311.90 512.31,311.90 512.57,311.90 512.83,311.90 513.09,311.90 513.35,311.90 513.61,311.90 513.87,311.90 514.13,311.90 514.39,311.90 514.65,311.90 514.91,311.90 515.17,311.90 515.42,311.90 515.68,311.90 515.94,311.90 516.20,311.90 516.46,311.90 516.72,311.90 516.98,311.90 517.24,311.90 517.50,311.90 517.76,311.90 518.02,311.90 518.28,311.90 518.54,311.90 518.80,311.90 519.06,311.90 519.32,311.90 519.58,311.90 519.84,311.90 520.10,311.90 520.36,311.90 520.62,311.90 520.88,311.90 521.14,311.90 521.40,311.90 521.66,311.90 521.92,311.90 522.18,311.90 522.44,311.90 522.70,311.90 522.96,311.90 523.22,311.90 523.48,311.90 523.74,311.90 524.00,311.90 524.26,311.90 524.52,311.90 524.78,311.90 525.04,311.90 525.30,311.90 525.56,311.90 525.82,311.90 526.08,311.90 526.34,311.90 526.60,311.90 526.86,311.90 527.12,311.90 527.38,311.90 527.64,311.90 527.90,311.90 528.16,311.90 528.42,311.90 528.68,311.90 528.94,311.90 529.20,311.90 529.46,311.90 529.72,311.90 529.98,311.90 530.24,311.90 530.50,311.90 530.75,311.90 531.01,311.90 531.27,311.90 531.53,311.90 531.79,311.90 532.05,311.90 532.31,311.90 532.57,311.90 532.83,311.90 533.09,311.90 533.35,311.90 533.61,311.90 533.87,311.90 534.13,311.90 534.39,311.90 534.65,311.90 534.91,311.90 535.17,311.90 535.43,311.90 535.69,311.90 535.95,311.90 536.21,311.90 536.47,311.90 536.73,311.90 536.99,311.90 537.25,311.90 537.51,311.90 537.77,311.90 538.03,311.90 538.29,311.90 538.55,311.90 538.81,311.90 539.07,311.90 539.33,311.90 539.59,311.90 539.85,311.90 540.11,311.90 540.37,311.90 540.63,311.90 540.89,311.90 541.15,311.90 541.41,311.90 541.67,311.90 541.93,311.90 542.19,311.90 542.45,311.90 542.71,311.90 542.97,311.90 543.23,311.90 543.49,311.90 543.75,311.90 544.01,311.90 544.27,311.90 544.53,311.90 544.79,311.90 545.05,311.90 545.31,311.90 545.57,311.90 545.83,311.90 546.08,311.90 546.34,311.90 546.60,311.90 546.86,311.90 547.12,311.90 547.38,311.90 547.64,311.90 547.90,311.90 548.16,311.90 548.42,311.90 548.68,311.90 548.94,311.90 549.20,311.90 549.46,311.90 549.72,311.90 549.98,311.90 550.24,311.90 550.50,311.90 550.76,311.90 551.02,311.90 551.28,311.90 551.54,311.90 551.80,311.90 552.06,311.90 552.32,311.90 552.58,311.90 552.84,311.90 553.10,311.90 553.36,311.90 553.62,311.90 553.88,311.90 554.14,311.90 554.40,311.90 554.66,311.90 554.92,311.90 555.18,311.90 555.44,311.90 555.70,311.90 555.96,311.90 556.22,311.90 556.48,311.90 556.74,311.90 557.00,311.90 557.26,311.90 557.52,311.90 557.78,311.90 558.04,311.90 558.30,311.90 558.56,311.90 558.82,311.90 559.08,311.90 559.34,311.90 559.60,311.90 559.86,311.90 560.12,311.90 560.38,311.90 560.64,311.90 560.90,311.90 561.16,311.90 561.41,311.90 561.67,311.90 561.93,311.90 562.19,311.90 562.45,311.90 562.71,311.90 562.97,311.90 563.23,311.90 563.49,311.90 563.75,311.90 564.01,311.90 564.27,311.90 564.53,311.90 564.79,311.90 565.05,311.90 565.31,311.90 565.57,311.90 565.83,311.90 566.09,311.90 566.35,311.90 566.61,311.90 566.87,311.90 567.13,311.90 567.39,311.90 567.65,311.90 567.91,311.90 568.17,311.90 568.43,311.90 568.69,311.90 568.95,311.90 569.21,311.90 569.47,311.90 569.73,311.90 569.99,311.90 570.25,311.90 570.51,311.90 570.77,311.90 571.03,311.90 571.29,311.90 571.55,311.90 571.81,311.90 572.07,311.90 572.33,311.90 572.59,311.90 572.85,311.90 573.11,311.90 573.37,311.90 573.63,311.90 573.89,311.90 574.15,311.90 574.41,311.90 574.67,311.90 574.93,311.90 575.19,311.90 575.45,311.90 575.71,311.90 575.97,311.90 576.23,311.90 576.49,311.90 576.74,311.90 577.00,311.90 577.26,311.90 577.52,311.90 577.78,311.90 578.04,311.90 578.30,311.90 578.56,311.90 578.82,311.90 579.08,311.90 579.34,311.90 579.60,311.90 579.86,311.90 580.12,311.90 580.38,311.90 580.64,311.90 580.90,311.90 581.16,311.90 581.42,311.90 581.68,311.90 581.94,311.90 582.20,311.90 582.46,311.90 582.72,311.90 582.98,311.90 583.24,311.90 583.50,311.90 583.76,311.90 584.02,311.90 584.28,311.90 584.54,311.90 584.80,311.90 585.06,311.90 585.32,311.90 585.58,311.90 585.84,311.90 586.10,311.90 586.36,311.90 586.62,311.90 586.88,311.90 587.14,311.90 587.40,311.90 587.66,311.90 587.92,311.90 588.18,311.90 588.44,311.90 588.70,311.90 588.96,311.90 589.22,311.90 589.48,311.90 589.74,311.90 590.00,311.90 590.26,311.90 590.52,311.90 590.78,311.90 591.04,311.90 591.30,311.90 591.56,311.90 591.82,311.90 592.07,311.90 592.33,311.90 592.59,311.90 592.85,311.90 593.11,311.90 593.37,311.90 593.63,311.90 593.89,311.90 594.15,311.90 594.41,311.90 594.67,311.90 594.93,311.90 595.19,311.90 595.45,311.90 595.71,311.90 595.97,311.90 596.23,311.90 596.49,311.90 596.75,311.90 597.01,311.90 597.27,311.90 597.53,311.90 597.79,311.90 598.05,311.90 598.31,311.90 598.57,311.90 598.83,311.90 599.09,311.90 599.35,311.90 599.61,311.90 599.87,311.90 600.13,311.90 600.39,311.90 600.65,311.90 600.91,311.90 601.17,311.90 601.43,311.90 601.69,311.90 601.95,311.90 602.21,311.90 602.47,311.90 602.73,311.90 602.99,311.90 603.25,311.90 603.51,311.90 603.77,311.90 604.03,311.90 604.29,311.90 604.55,311.90 604.81,311.90 605.07,311.90 605.33,311.90 605.59,311.90 605.85,311.90 606.11,311.90 606.37,311.90 606.63,311.90 606.89,311.90 607.15,311.90 607.40,311.90 607.66,311.90 607.92,311.90 608.18,311.90 608.44,311.90 608.70,311.90 608.96,311.90 609.22,311.90 609.48,311.90 609.74,311.90 610.00,311.90 610.26,311.90 610.52,311.90 610.78,311.90 611.04,311.90 611.30,311.90 611.56,311.90 611.82,311.90 612.08,311.90 612.34,311.90 612.60,311.90 612.86,311.90 613.12,311.90 613.38,311.90 613.64,311.90 613.90,311.90 614.16,311.90 614.42,311.90 614.68,311.90 614.94,311.90 615.20,311.90 615.46,311.90 615.72,311.90 615.98,311.90 616.24,311.90 616.50,311.90 616.76,311.90 617.02,311.90 617.28,311.90 617.54,311.90 617.80,311.90 618.06,311.90 618.32,311.90 618.58,311.90 618.84,311.90 619.10,311.90 619.36,311.90 619.62,311.90 619.88,311.90 620.14,311.90 620.40,311.90 620.66,311.90 620.92,311.90 621.18,311.90 621.44,311.90 621.70,311.90 621.96,311.90 622.22,311.90 622.48,311.90 622.73,311.90 622.99,311.90 623.25,311.90 623.51,311.90 623.77,311.90 624.03,311.90 624.29,311.90 624.55,311.90 624.81,311.90 625.07,311.90 625.33,311.90 625.59,311.90 625.85,311.90 626.11,311.90 626.37,311.90 626.63,311.90 626.89,311.90 627.15,311.90 627.41,311.90 627.67,311.90 627.93,311.90 628.19,311.90 628.45,311.90 628.71,311.90 628.97,311.90 629.23,311.90 629.49,311.90 629.75,311.90 630.01,311.90 630.27,311.90 630.53,311.90 630.79,311.90 631.05,311.90 631.31,311.90 631.57,311.90 631.83,311.90 632.09,311.90 632.35,311.90 632.61,311.90 632.87,311.90 633.13,311.90 633.39,311.90 633.65,311.90 633.91,311.90 634.17,311.90 634.43,311.90 634.69,311.90 634.95,311.90 635.21,311.90 635.47,311.90 635.73,311.90 635.99,311.90 636.25,311.90 636.51,311.90 636.77,311.90 637.03,311.90 637.29,311.90 637.55,311.90 637.81,311.90 638.06,311.90 638.32,311.90 638.58,311.90 638.84,311.90 639.10,311.90 639.36,311.90 639.62,311.90 639.88,311.90 640.14,311.90 640.40,311.90 640.66,311.90 640.92,311.90 641.18,311.90 641.44,311.90 641.70,311.90 641.96,311.90 642.22,311.90 642.48,311.90 642.74,311.90 643.00,311.90 643.26,311.90 643.52,311.90 643.78,311.90 644.04,311.90 644.30,311.90 644.56,311.90 644.82,311.90 645.08,311.90 645.34,311.90 645.60,311.90 645.86,311.90 646.12,311.90 646.38,311.90 646.64,311.90 646.90,311.90 647.16,311.90 647.42,311.90 647.68,311.90 647.94,311.90 648.20,311.90 648.46,311.90 648.72,311.90 648.98,311.90 649.24,311.90 649.50,311.90 649.76,311.90 650.02,311.90 650.28,311.90 650.54,311.90 650.80,311.90 651.06,311.90 651.32,311.90 651.58,311.90 651.84,311.90 652.10,311.90 652.36,311.90 652.62,311.90 652.88,311.90 653.14,311.90 653.39,311.90 653.65,311.90 653.91,311.90 654.17,311.90 654.43,311.90 654.69,311.90 654.95,311.90 655.21,311.90 655.47,311.90 655.73,311.90 655.99,311.90 656.25,311.90 656.51,311.90 656.77,311.90 657.03,311.90 657.29,311.90 657.55,311.90 657.81,311.90 658.07,311.90 658.33,311.90 658.59,311.90 658.85,311.90 659.11,311.90 659.37,311.90 659.63,311.90 659.89,311.90 660.15,311.90 660.41,311.90 660.67,311.90 660.93,311.90 661.19,311.90 661.45,311.90 661.71,311.90 661.97,311.90 662.23,311.90 662.49,311.90 662.75,311.90 663.01,311.90 663.27,311.90 663.53,311.90 663.79,311.90 664.05,311.90 664.31,311.90 664.57,311.90 664.83,311.90 665.09,311.90 665.35,311.90 665.61,311.90 665.87,311.90 666.13,311.90 666.39,311.90 666.65,311.90 666.91,311.90 667.17,311.90 667.43,311.90 667.69,311.90 667.95,311.90 668.21,311.90 668.47,311.90 668.73,311.90 668.98,311.90 669.24,311.90 669.50,311.90 669.76,311.90 670.02,311.90 670.28,311.90 670.54,311.90 670.80,311.90 671.06,311.90 671.32,311.90 671.58,311.90 671.67,311.90" stroke="#2a1ee6"/>
</g>
<g font-size="12.5" fill="#141414">
<text x="503.30" y="315.50" text-anchor="end">0</text>
<text x="501.00" y="262.30" text-anchor="end">0.2</text>
<text x="501.00" y="208.30" text-anchor="end">0.4</text>
<text x="501.00" y="157.30" text-anchor="end">0.6</text>
<text x="511.90" y="327.90" text-anchor="middle">0</text>
<text x="561.35" y="327.90" text-anchor="middle">600</text>
<text x="617.65" y="327.90" text-anchor="middle">1,200</text>
<text x="668.60" y="327.90" text-anchor="middle">1,800</text>
</g>
<text x="591.95" y="346.8" font-size="12.7" text-anchor="middle">Time (days)</text>
<text transform="translate(476.3 223.5) rotate(-90)" font-size="13.7" text-anchor="middle">Proportion</text>
<text x="185.5" y="269.3" font-size="13.5" font-style="italic">T</text>
<text x="425.0" y="163.0" font-size="13.5" font-style="italic">T</text>
<text x="639.9" y="303.4" font-size="12.5" text-anchor="middle">0</text>
<g font-family='"DejaVu Sans", "Liberation Sans", sans-serif' font-size="8.4" fill="#161616" stroke="#161616" stroke-width="0.15">
<text x="156.1" y="198.1">1</text>
<text x="163.39999999999998" y="197.70000000000002" font-size="7.73">+</text>
<path d="M170.90 194.30h34.8" stroke="#333" stroke-width="0.71"/>
<text x="188.60" y="191.80" text-anchor="middle" font-style="italic">r</text>
<text x="188.60" y="203.60" text-anchor="middle" word-spacing="-1.43"><tspan font-style="italic">g</tspan>(<tspan font-style="italic">T</tspan> − 1)</text>
</g>
<g font-family='"DejaVu Sans", "Liberation Sans", sans-serif' font-size="9.2" fill="#161616" stroke="#161616" stroke-width="0.15">
<text x="397.29999999999995" y="282.4">1</text>
<text x="405.4" y="282.0" font-size="8.46">+</text>
<path d="M413.60 278.50h38.2" stroke="#333" stroke-width="0.78"/>
<text x="433.00" y="276.00" text-anchor="middle" font-style="italic">r</text>
<text x="433.00" y="288.10" text-anchor="middle" word-spacing="-1.56"><tspan font-style="italic">g</tspan>(<tspan font-style="italic">T</tspan> − 1)</text>
</g>
<g font-family='"DejaVu Sans", "Liberation Sans", sans-serif' font-size="10.5" fill="#161616" stroke="#161616" stroke-width="0.15">
<text x="627.0" y="157.6">1</text>
<text x="633.9" y="156.4" font-size="9">−</text>
<path d="M643.6 153.5h9" stroke="#333" stroke-width="0.9"/>
<text x="648.3" y="150.5" text-anchor="middle" font-style="italic">r</text>
<text x="648.1" y="163.6" text-anchor="middle" font-style="italic">g</text>
</g>
</svg>
</body>
</html>
